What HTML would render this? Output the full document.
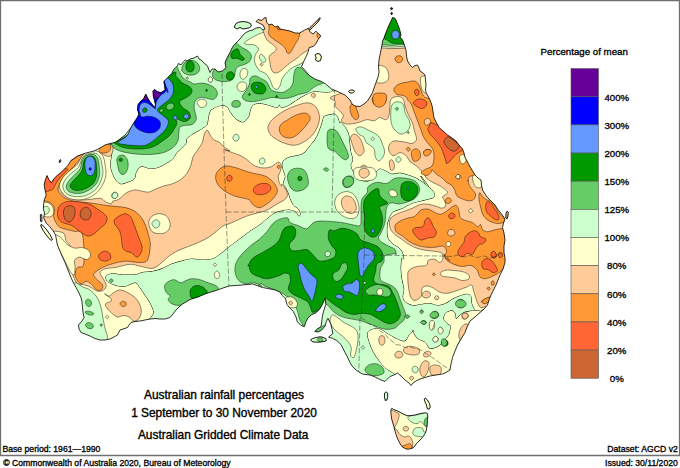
<!DOCTYPE html>
<html lang="en"><head><meta charset="utf-8"><title>Australian rainfall percentages</title>
<style>
html,body{margin:0;padding:0;background:#fff;}
body{width:680px;height:468px;overflow:hidden;position:relative;font-family:"Liberation Sans",Arial,Helvetica,sans-serif;color:#000;}
svg{position:absolute;left:0;top:0;display:block;}
text{font-family:"Liberation Sans",Arial,Helvetica,sans-serif;fill:#000;}
.t{font-size:11.9px;text-anchor:middle;stroke:#000;stroke-width:.35px;}
.l{font-size:9.7px;text-anchor:middle;stroke:#000;stroke-width:.32px;}
.f{font-size:8.65px;stroke:#000;stroke-width:.32px;}
.c{stroke:#000;stroke-width:.45;stroke-linejoin:round;}
</style></head><body>
<svg width="680" height="468" viewBox="0 0 680 468">
<rect x="0" y="0" width="680" height="468" fill="#fff"/>
<defs><clipPath id="land"><path d="M48.8 179.5L51.4 183L53.9 178.7L57.4 175.3L60.8 172.7L64.2 169.3L68 165.4L71 160.5L77.5 156L86 153L94 151L100 148L105 145L110 143.5L115 142.5L120 139L125 135L130 129L134 122.5L137 118L139 114L137.5 110L138 104.5L140.8 101L143.6 99L145.7 94L147.8 98.2L150 101.7L152.6 105L154.7 107.5L155.4 104.4L154.4 100.3L153.3 96L152.9 91.3L154.4 89.4L157.5 91.7L161 92.6L163 91.3L165.1 89.9L164.4 85L163.8 81.5L165.8 79.4L167.9 77.4L170 75.3L172 73.2L173.5 69.7L175.6 67.6L177.6 65.6L178.3 63.5L181.1 64.9L183.2 62.1L185.3 60L187 61L190 59L194 58L197.5 56L199 59L201 60L204 63L207.5 66L209 70L210 72.5L212 69L215 69L218 72L222.5 71L226 67.5L225 63L226 60L228 56L230 52.5L232 48L234 45L237 42L240 39L243 35L246 32.5L249 31L252.5 30L256 28L260 27.5L263 30L265 29L263 25L259 23L256 21.5L258 19.5L262 20.5L264 18L266 17.5L266.5 22L269 25L272 24L275 27L278 26L280 29L285 30L290 31L295 33L299.6 33.1L304.4 30.2L308.3 28.3L310.2 32.1L313.1 34L316 31.2L318.8 34L320.8 36L317.9 39.8L316 43.7L313.1 46.5L309.2 47.5L308.3 51.3L306.3 56.2L303.5 61.9L301.5 66.7L304.4 69.6L309.2 75.4L315 79.2L320.8 81.2L325.6 84L331.3 88.8L338 91.7L345 95L350 100L352 104L355 106L360 106.5L364 104L367.5 101L370 97L372.5 92.5L374 88L376 82.5L378 77L379 72.5L378.5 66L379 60L380 55L381 50L382 45L382.5 41L384 38L385 35L387 30L389 25L391 21L392.5 17.5L394.5 18L396 20L397.5 24L399 27.5L400 31L401 35L400 37L402.5 40L404 44L405 47L406 50L406.5 56L407.5 61L410 65L412.5 67.5L415 65.5L417.5 65L419 68L420 71L423 73L425 75L425.5 80L426 85L425.5 89L426 92.5L428 96L430 100L431.5 104L432.5 107.5L433 112L434 117.5L436 122L439 127.5L443 131L447.5 135L452 138L456 141L459 145L462.5 149L464 153L465 157.5L467 161L469 165L472 170L475 175L478 178L481 180L481.5 185L482.5 190L485 194L487.5 197.5L490 200L493 203L495 205L497.5 209L500 212L503 216L505 219L503.5 223L502.5 227.5L504 233L505 240L504 246L504 252.5L505 258L505 262.5L503 269L500 275L498 280L496 285L493.5 290L491 295L489 300L487.5 305L484 309L480 312.5L475 317L470 321L467 327L465 332.5L461 339L457.5 345L455 351L452.5 357.5L451 364L450 370L446 372.5L442.5 374L436 375L430 376L425 377.5L420 379L416 381L413 383L411 385.5L409 383L405 380L401 376L397.5 373L394 375L390 376.5L387 379.5L385 381.5L380 379.5L375 377L370 375L366 374.5L362.5 374L358 371.5L355 369L352 366L350 362.5L347.5 357L345 352.5L341.1 344.7L336.9 340.6L332.8 338.5L328.6 337.1L332.8 333.6L332.1 329.4L330.7 323.9L327.9 318.3L326.5 321.1L325.1 326L321.7 330.1L318.2 332L314.7 331.5L317.5 328.8L321 326.7L321.7 321.8L322.4 316.2L323.8 310.7L325.8 304.4L325.1 298.2L322.4 304.4L319.6 309.3L316.1 312.8L311.2 314.9L307.8 318.3L305.7 322.5L304.3 326.7L300.8 325.3L297.4 321.8L296 317L293.2 311.4L289.7 307.9L286.9 304.4L285.6 298.9L282.1 295.4L280 292L275 290L268 288.5L262.5 287.5L257 285.5L252.5 284L247 284.5L242.5 285L235 285.5L229 286L223 288L217.5 290L211 292L205 294L198 297L190 299.5L186 302L182.5 304L179 307L176 310L173 314L170 317.5L165 319L160 319L155 318.5L150 319L145 320L140 321L135 321.5L131 322.5L129 325L127.5 327.5L123 329L120 330L118.5 333L117.5 335L113 337.5L110 339L105 340L100 340L95 338.5L90 336L85 334L81 332.5L79 329L78.5 325L82 321L84 317.5L83 312L82.5 307.5L82 302L81 297.5L78.5 292L76 287.5L73 282L71 277.5L68 270L65 262.5L62 256L59.5 250L57.4 245L56.5 240.2L55.6 235.1L53.1 230.8L49.7 226.5L46.2 223.1L43.7 218L44.5 212.9L43.3 208.6L43.7 203.5L44.5 199.2L46.2 194.9L45 189.8L44.2 184.7L45.4 179.5L47.1 175.6ZM234 27L236 23.5L239 22L243 21.5L247 22L250.5 23.5L251.5 26L249 28L246 28.5L243 29L240 27.5L237 29ZM309 28.6L313 24.6L317 20.6L319.8 17.6L320.4 18.2L318 22L314 26L310 29.8ZM315 55L317 53.5L320 54L321.5 57L320.5 60.5L318 61.5L315.5 60L316 57.5ZM348.5 91.5L350.5 90L353.5 90L354.5 91.5L352.5 93L350 93ZM310.6 339.9L312.5 338.5L314.7 337.8L317.5 337.2L320.3 336.7L323 337.3L325.8 338.5L326.5 340.6L324 341.5L321.7 341.9L318 342.2L314.7 342.2L312 341.6ZM384.6 393L386 391.8L387.6 393L387.8 396.5L387 400L385.2 400.5L384.4 397ZM424.2 399L425.5 398.3L427.5 400L429.5 403.5L430.3 407L429 409.3L427 408.5L426.5 405L425 402ZM390.9 412.5L391 409.5L391.9 408.2L393.5 409.5L396 410.3L399 411.7L403 413.8L407 415.7L411 415.6L415 415L418.5 414L421.7 413.3L425 412.8L427.4 413.3L427.8 417L427.4 420.6L427.2 425L426.6 428.7L426 431.5L425 433.6L423.5 436L421.7 438.5L420 440L418.5 441.7L416.5 443.5L415 445.8L413.5 447.5L412 448.3L409.5 449L407 449.2L404.5 448.2L402 446.6L400.3 444L399 441.7L397.3 438L395.7 433.6L394.8 430L394 427L392.8 423L391.7 419L391.2 416ZM506 213L507.3 211L508.3 212.5L508 216L507 219L505.8 218ZM59.3 160.8L60.3 159.5L61 160.3L60.2 162.4L59.4 162.6ZM40.3 214.8L41.6 214.5L42 218L41.8 221.5L40.5 221.3ZM40.5 225L42 224.5L46 229L50 234.5L52.5 239.5L51 240.5L47 236L43 230.5ZM390.5 8.2L392 7.6L392.6 9L391.3 9.8ZM390.8 13L392 12.5L392.5 14L391.2 14.6Z"/></clipPath></defs>
<g clip-path="url(#land)">
<rect x="30" y="5" width="490" height="450" fill="#FFFFCC"/>
<path fill="none" stroke="#000" stroke-width="1" stroke-linejoin="round" d="M113 133C106.9 155.9 113.7 140 113.7 142.6C113.6 145.3 113 146.4 112.6 148.8C112.3 151.2 112 154.3 111.6 157.1C111.3 159.8 110.4 162.6 110.6 165.3C110.8 168 111.8 171.1 112.6 173.5C113.5 175.9 114.4 178 115.7 179.7C117.1 181.4 118.8 183.5 120.9 183.8C122.9 184.2 125.9 182.6 128.1 181.8C130.3 180.9 132.9 180.4 134.3 178.7C135.6 177 135.1 173.5 136.3 171.5C137.5 169.4 139.2 166.8 141.5 166.3C143.7 165.8 147 168.2 149.7 168.4C152.5 168.6 155.2 168.2 157.9 167.4C160.7 166.5 163.8 164.6 166.2 163.2C168.6 161.9 170.6 160.8 172.4 159.1C174.1 157.4 175.1 154.7 176.5 152.9C177.8 151.2 179 150.4 180.6 148.8C182.1 147.3 184.7 145.4 185.7 143.7C186.8 142 185.7 140.1 186.8 138.5C187.8 137 189.9 135.8 191.9 134.4C194 133 196.9 131.7 199.1 130.3C201.4 128.9 203.9 127.2 205.3 126.2C206.6 125.1 206.6 125.7 207.2 124C207.8 122.2 208 118.1 208.6 115.7C209.3 113.3 209.3 111.3 211.3 109.6C213.3 107.8 218 106 220.6 105.4C223.2 104.9 225 105.3 226.8 106.5C228.5 107.7 229.3 110.6 230.9 112.6C232.4 114.7 234 117.3 236 118.8C238.1 120.4 241.2 122.3 243.2 121.9C245.3 121.6 247.2 118.8 248.4 116.8C249.6 114.7 249.6 111.6 250.4 109.6C251.3 107.5 251.6 105.4 253.5 104.4C255.4 103.4 259 103.2 261.8 103.4C264.5 103.6 267.4 104.8 270 105.4C272.6 106.1 275.7 107.7 277.2 107.5C278.8 107.3 278.6 104.4 279.3 104.4C280 104.4 280.1 107.2 281.3 107.5C282.5 107.8 284.9 106.6 286.5 106.1C288 105.5 288 105.6 290.6 104C293.2 102.4 298 98.7 301.9 96.6C305.8 94.5 310.5 92 313.9 91.2C317.2 90.4 319.1 91.7 321.8 91.8C324.4 91.9 327.9 92.2 329.7 91.8C331.5 91.5 331.4 91.3 332.4 89.9C333.3 88.4 333.6 97.4 335.7 83.2C337.8 69.1 375.9 18 345 5C314.1 -8 188.7 -16.3 150 5C111.3 26.3 119.1 110.1 113 133Z"/>
<path fill="none" stroke="#000" stroke-width="1" stroke-linejoin="round" d="M323.5 116.9C324 116.5 325.4 116 326.4 115.7C327.4 115.3 328.3 115 329.7 114.7C331.1 114.5 333.7 113.9 335 114.3C336.3 114.8 336.9 116.2 337.6 117.6C338.4 119.1 339 122.1 339.6 122.9C340.2 123.8 340.4 121.9 341.3 122.8C342.3 123.6 344.2 126 345.4 127.9C346.6 129.8 347.8 131.5 348.5 134.1C349.2 136.7 349.2 140.4 349.6 143.4C349.9 146.3 350.1 148.8 350.6 151.6C351.1 154.3 352.6 157.6 352.6 159.8C352.6 162.1 350.6 163.1 350.6 165C350.6 166.9 351.6 169.3 352.6 171.1C353.7 173 355.4 174.8 356.8 176.3C358.1 177.8 359 179.6 360.9 180.4C362.8 181.3 365.9 182 368.1 181.4C370.3 180.9 372.9 178.9 374.3 177.3C375.6 175.8 375.3 173.6 376.3 172.2C377.4 170.8 378.6 169.1 380.4 169.1C382.3 169.1 385.8 171.3 387.6 172.2C389.5 173 389.7 174.1 391.8 174.2C393.8 174.4 397.3 173 400 173.2C402.7 173.4 405.5 174.4 408.2 175.3C411 176.1 414.1 177.2 416.5 178.4C418.9 179.6 420.7 181.1 422.6 182.5C424.6 183.8 428.7 187.6 428.4 186.6C428.1 185.5 421.3 176.5 420.9 176.2C420.5 175.8 424 181.8 426 184.4C428.1 187 431.9 189.6 433.2 191.6C434.6 193.7 435 195.6 434.3 196.8C433.6 198 431.3 198.1 429.1 198.8C426.9 199.5 423.6 200.2 420.9 200.9C418.1 201.6 415 202.1 412.6 202.9C410.2 203.8 408.5 205 406.5 206C404.4 207.1 402.4 208.3 400.3 209.1C398.2 210 395.7 210.3 394.1 211.2C392.5 212 391.9 212.6 390.9 214.3C389.8 216 388.5 218.9 387.8 221.5C387.1 224 386.8 227 386.8 229.7C386.8 232.5 386.8 235.5 387.8 237.9C388.8 240.3 391.1 242.4 392.9 244.1C394.8 245.8 397.6 246.9 399.1 248.2C400.7 249.6 401.5 250.6 402.2 252.4C403 254.1 403.7 257.6 403.7 258.5C403.6 259.5 402.1 256.6 401.6 258.2C401.1 259.9 400.6 265.1 400.6 268.5C400.6 272 401.1 275.4 401.6 278.8C402.1 282.3 403.5 286 403.7 289.1C403.8 292.2 402.3 295.1 402.6 297.4C403 299.6 404 301.1 405.7 302.5C407.5 303.9 410.4 305.2 412.9 305.6C415.5 305.9 418.4 304.9 421.2 304.6C423.9 304.2 426.7 303.4 429.4 303.5C432.2 303.7 434.9 305.6 437.6 305.6C440.4 305.6 443.5 304.6 445.9 303.5C448.3 302.5 449.8 300.6 452.1 299.4C454.3 298.2 456.9 297.2 459.3 296.3C461.7 295.5 464.6 294.3 466.5 294.3C468.4 294.3 469.7 294.8 470.6 296.3C471.4 297.9 470.9 301.3 471.6 303.5C472.3 305.8 473.2 308.2 474.7 309.7C476.3 311.3 478.1 312.5 480.9 312.8C483.6 313.1 493 306.4 491.2 311.8C489.4 317.1 475.2 332.8 470 345C464.8 357.2 471.7 376.7 460 385C448.3 393.3 418.3 395 400 395C381.7 395 361.7 393.3 350 385C338.3 376.7 338.3 353.3 330 345C321.7 336.7 310 342.5 300 335C290 327.5 281.7 307.2 270 300C258.3 292.8 243.3 291 230 292C216.7 293 200 300.5 190 306C180 311.5 176.7 322 170 325C163.3 328 153.3 325 150 324C146.7 323 149.4 320.7 150 318.8C150.6 316.8 153.8 315.2 153.8 312.5C153.8 309.8 151.5 305.4 150 302.5C148.5 299.6 146.7 297.5 145 295C143.3 292.5 141.7 289.6 140 287.5C138.3 285.4 137.5 282.7 135 282.5C132.5 282.3 128.3 285.8 125 286.2C121.7 286.7 117.9 285.8 115 285C112.1 284.2 109 282.7 107.5 281.2C106 279.8 105.4 277.5 106.2 276.2C107.1 275 109.8 274 112.5 273.8C115.2 273.5 118.6 274.9 122.5 275C126.4 275.1 132.9 275 136.2 274.6C139.5 274.1 139.6 273 142.4 272.5C145.1 272 149.2 272.2 152.6 271.5C156.1 270.8 159.9 269.6 162.9 268.4C166 267.2 168.1 265.5 171.2 264.3C174.3 263.1 178 262 181.5 261.2C184.9 260.3 188.3 259.3 191.8 259.1C195.2 258.9 198.6 260.1 202.1 260.1C205.5 260.1 209.3 260.1 212.4 259.1C215.4 258.1 218.2 255.7 220.6 254C223 252.3 224.4 250.7 226.8 248.8C229.2 246.9 232.3 244.7 235 242.6C237.7 240.6 240.5 238.5 243.2 236.5C246 234.4 248.7 232.2 251.5 230.3C254.2 228.4 256.1 227.8 259.7 225.1C263.3 222.5 269.4 216.6 272.9 214.3C276.5 211.9 278.4 211.9 281.2 211.2C283.9 210.5 287 210 289.4 210.1C291.8 210.3 294 211.2 295.6 212.2C297.1 213.2 297.8 216 298.7 216.3C299.5 216.7 300.7 215.5 300.7 214.3C300.7 213.1 299.9 210.7 298.7 209.1C297.5 207.6 294.9 206.7 293.5 205C292.2 203.3 291.3 200.9 290.4 198.8C289.6 196.8 289.2 194.7 288.4 192.6C287.5 190.6 286.1 188 285.3 186.5C284.5 185 283.4 185.3 283.4 183.7C283.4 182 285.4 178.7 285.4 176.5C285.4 174.2 283.9 172.4 283.4 170.3C282.9 168.2 282.2 165.8 282.4 164.1C282.5 162.4 283 161.2 284.4 160C285.8 158.8 288.5 157.6 290.6 156.9C292.6 156.2 294.7 156.4 296.8 155.9C298.8 155.4 301.2 154.9 302.9 153.8C304.7 152.8 305.7 151.3 307.1 149.7C308.4 148.2 309.8 146.3 311.2 144.6C312.6 142.8 314.1 141.3 315.3 139.4C316.5 137.5 317.4 135.6 318.4 133.2C319.4 130.8 320.6 127.6 321.5 125C322.3 122.4 323.2 119.2 323.5 117.8C323.9 116.4 323 117.2 323.5 116.9Z"/>
<path fill="#CCFFCC" d="M113 133C106.9 155.9 113.7 140 113.7 142.6C113.6 145.3 113 146.4 112.6 148.8C112.3 151.2 112 154.3 111.6 157.1C111.3 159.8 110.4 162.6 110.6 165.3C110.8 168 111.8 171.1 112.6 173.5C113.5 175.9 114.4 178 115.7 179.7C117.1 181.4 118.8 183.5 120.9 183.8C122.9 184.2 125.9 182.6 128.1 181.8C130.3 180.9 132.9 180.4 134.3 178.7C135.6 177 135.1 173.5 136.3 171.5C137.5 169.4 139.2 166.8 141.5 166.3C143.7 165.8 147 168.2 149.7 168.4C152.5 168.6 155.2 168.2 157.9 167.4C160.7 166.5 163.8 164.6 166.2 163.2C168.6 161.9 170.6 160.8 172.4 159.1C174.1 157.4 175.1 154.7 176.5 152.9C177.8 151.2 179 150.4 180.6 148.8C182.1 147.3 184.7 145.4 185.7 143.7C186.8 142 185.7 140.1 186.8 138.5C187.8 137 189.9 135.8 191.9 134.4C194 133 196.9 131.7 199.1 130.3C201.4 128.9 203.9 127.2 205.3 126.2C206.6 125.1 206.6 125.7 207.2 124C207.8 122.2 208 118.1 208.6 115.7C209.3 113.3 209.3 111.3 211.3 109.6C213.3 107.8 218 106 220.6 105.4C223.2 104.9 225 105.3 226.8 106.5C228.5 107.7 229.3 110.6 230.9 112.6C232.4 114.7 234 117.3 236 118.8C238.1 120.4 241.2 122.3 243.2 121.9C245.3 121.6 247.2 118.8 248.4 116.8C249.6 114.7 249.6 111.6 250.4 109.6C251.3 107.5 251.6 105.4 253.5 104.4C255.4 103.4 259 103.2 261.8 103.4C264.5 103.6 267.4 104.8 270 105.4C272.6 106.1 275.7 107.7 277.2 107.5C278.8 107.3 278.6 104.4 279.3 104.4C280 104.4 280.1 107.2 281.3 107.5C282.5 107.8 284.9 106.6 286.5 106.1C288 105.5 288 105.6 290.6 104C293.2 102.4 298 98.7 301.9 96.6C305.8 94.5 310.5 92 313.9 91.2C317.2 90.4 319.1 91.7 321.8 91.8C324.4 91.9 327.9 92.2 329.7 91.8C331.5 91.5 331.4 91.3 332.4 89.9C333.3 88.4 333.6 97.4 335.7 83.2C337.8 69.1 375.9 18 345 5C314.1 -8 188.7 -16.3 150 5C111.3 26.3 119.1 110.1 113 133Z"/>
<path fill="#CCFFCC" d="M323.5 116.9C324 116.5 325.4 116 326.4 115.7C327.4 115.3 328.3 115 329.7 114.7C331.1 114.5 333.7 113.9 335 114.3C336.3 114.8 336.9 116.2 337.6 117.6C338.4 119.1 339 122.1 339.6 122.9C340.2 123.8 340.4 121.9 341.3 122.8C342.3 123.6 344.2 126 345.4 127.9C346.6 129.8 347.8 131.5 348.5 134.1C349.2 136.7 349.2 140.4 349.6 143.4C349.9 146.3 350.1 148.8 350.6 151.6C351.1 154.3 352.6 157.6 352.6 159.8C352.6 162.1 350.6 163.1 350.6 165C350.6 166.9 351.6 169.3 352.6 171.1C353.7 173 355.4 174.8 356.8 176.3C358.1 177.8 359 179.6 360.9 180.4C362.8 181.3 365.9 182 368.1 181.4C370.3 180.9 372.9 178.9 374.3 177.3C375.6 175.8 375.3 173.6 376.3 172.2C377.4 170.8 378.6 169.1 380.4 169.1C382.3 169.1 385.8 171.3 387.6 172.2C389.5 173 389.7 174.1 391.8 174.2C393.8 174.4 397.3 173 400 173.2C402.7 173.4 405.5 174.4 408.2 175.3C411 176.1 414.1 177.2 416.5 178.4C418.9 179.6 420.7 181.1 422.6 182.5C424.6 183.8 428.7 187.6 428.4 186.6C428.1 185.5 421.3 176.5 420.9 176.2C420.5 175.8 424 181.8 426 184.4C428.1 187 431.9 189.6 433.2 191.6C434.6 193.7 435 195.6 434.3 196.8C433.6 198 431.3 198.1 429.1 198.8C426.9 199.5 423.6 200.2 420.9 200.9C418.1 201.6 415 202.1 412.6 202.9C410.2 203.8 408.5 205 406.5 206C404.4 207.1 402.4 208.3 400.3 209.1C398.2 210 395.7 210.3 394.1 211.2C392.5 212 391.9 212.6 390.9 214.3C389.8 216 388.5 218.9 387.8 221.5C387.1 224 386.8 227 386.8 229.7C386.8 232.5 386.8 235.5 387.8 237.9C388.8 240.3 391.1 242.4 392.9 244.1C394.8 245.8 397.6 246.9 399.1 248.2C400.7 249.6 401.5 250.6 402.2 252.4C403 254.1 403.7 257.6 403.7 258.5C403.6 259.5 402.1 256.6 401.6 258.2C401.1 259.9 400.6 265.1 400.6 268.5C400.6 272 401.1 275.4 401.6 278.8C402.1 282.3 403.5 286 403.7 289.1C403.8 292.2 402.3 295.1 402.6 297.4C403 299.6 404 301.1 405.7 302.5C407.5 303.9 410.4 305.2 412.9 305.6C415.5 305.9 418.4 304.9 421.2 304.6C423.9 304.2 426.7 303.4 429.4 303.5C432.2 303.7 434.9 305.6 437.6 305.6C440.4 305.6 443.5 304.6 445.9 303.5C448.3 302.5 449.8 300.6 452.1 299.4C454.3 298.2 456.9 297.2 459.3 296.3C461.7 295.5 464.6 294.3 466.5 294.3C468.4 294.3 469.7 294.8 470.6 296.3C471.4 297.9 470.9 301.3 471.6 303.5C472.3 305.8 473.2 308.2 474.7 309.7C476.3 311.3 478.1 312.5 480.9 312.8C483.6 313.1 493 306.4 491.2 311.8C489.4 317.1 475.2 332.8 470 345C464.8 357.2 471.7 376.7 460 385C448.3 393.3 418.3 395 400 395C381.7 395 361.7 393.3 350 385C338.3 376.7 338.3 353.3 330 345C321.7 336.7 310 342.5 300 335C290 327.5 281.7 307.2 270 300C258.3 292.8 243.3 291 230 292C216.7 293 200 300.5 190 306C180 311.5 176.7 322 170 325C163.3 328 153.3 325 150 324C146.7 323 149.4 320.7 150 318.8C150.6 316.8 153.8 315.2 153.8 312.5C153.8 309.8 151.5 305.4 150 302.5C148.5 299.6 146.7 297.5 145 295C143.3 292.5 141.7 289.6 140 287.5C138.3 285.4 137.5 282.7 135 282.5C132.5 282.3 128.3 285.8 125 286.2C121.7 286.7 117.9 285.8 115 285C112.1 284.2 109 282.7 107.5 281.2C106 279.8 105.4 277.5 106.2 276.2C107.1 275 109.8 274 112.5 273.8C115.2 273.5 118.6 274.9 122.5 275C126.4 275.1 132.9 275 136.2 274.6C139.5 274.1 139.6 273 142.4 272.5C145.1 272 149.2 272.2 152.6 271.5C156.1 270.8 159.9 269.6 162.9 268.4C166 267.2 168.1 265.5 171.2 264.3C174.3 263.1 178 262 181.5 261.2C184.9 260.3 188.3 259.3 191.8 259.1C195.2 258.9 198.6 260.1 202.1 260.1C205.5 260.1 209.3 260.1 212.4 259.1C215.4 258.1 218.2 255.7 220.6 254C223 252.3 224.4 250.7 226.8 248.8C229.2 246.9 232.3 244.7 235 242.6C237.7 240.6 240.5 238.5 243.2 236.5C246 234.4 248.7 232.2 251.5 230.3C254.2 228.4 256.1 227.8 259.7 225.1C263.3 222.5 269.4 216.6 272.9 214.3C276.5 211.9 278.4 211.9 281.2 211.2C283.9 210.5 287 210 289.4 210.1C291.8 210.3 294 211.2 295.6 212.2C297.1 213.2 297.8 216 298.7 216.3C299.5 216.7 300.7 215.5 300.7 214.3C300.7 213.1 299.9 210.7 298.7 209.1C297.5 207.6 294.9 206.7 293.5 205C292.2 203.3 291.3 200.9 290.4 198.8C289.6 196.8 289.2 194.7 288.4 192.6C287.5 190.6 286.1 188 285.3 186.5C284.5 185 283.4 185.3 283.4 183.7C283.4 182 285.4 178.7 285.4 176.5C285.4 174.2 283.9 172.4 283.4 170.3C282.9 168.2 282.2 165.8 282.4 164.1C282.5 162.4 283 161.2 284.4 160C285.8 158.8 288.5 157.6 290.6 156.9C292.6 156.2 294.7 156.4 296.8 155.9C298.8 155.4 301.2 154.9 302.9 153.8C304.7 152.8 305.7 151.3 307.1 149.7C308.4 148.2 309.8 146.3 311.2 144.6C312.6 142.8 314.1 141.3 315.3 139.4C316.5 137.5 317.4 135.6 318.4 133.2C319.4 130.8 320.6 127.6 321.5 125C322.3 122.4 323.2 119.2 323.5 117.8C323.9 116.4 323 117.2 323.5 116.9Z"/>
<path class="c" fill="#FFCC99" d="M376.3 47.7C380.4 43.8 386.4 48.3 391.8 48.3C397.1 48.3 397.9 47.8 408.2 47.7C418.5 47.6 431.6 35.6 453.5 47.7C475.5 59.7 527.3 77.9 540 120C552.7 162.1 537.5 268.9 530 300C522.5 331.1 502.6 305.5 495.3 306.6C488 307.7 488.4 306.4 486 306.6C483.6 306.8 482.3 308.2 480.9 307.6C479.5 307.1 478.7 305.2 477.8 303.5C476.9 301.8 476.4 299.4 475.7 297.4C475.1 295.3 474.4 293.2 473.7 291.2C473 289.1 472.8 285.7 471.6 285C470.4 284.3 468.7 286.2 466.5 287.1C464.2 287.9 461.3 289.1 458.2 290.1C455.1 291.2 451 292.9 447.9 293.2C444.9 293.6 442.1 293.1 439.7 292.2C437.3 291.3 435.6 289.1 433.5 288.1C431.5 287.1 429.2 286 427.4 286C425.5 286 423.2 286.4 422.2 288.1C421.2 289.8 422.4 294.3 421.2 296.3C420 298.4 416.7 300.3 415 300.4C413.3 300.6 411.9 299.2 410.9 297.4C409.9 295.5 409.3 292.2 408.8 289.1C408.3 286 407.8 281.9 407.8 278.8C407.8 275.7 407.3 272.6 408.8 270.6C410.4 268.5 414.1 267.3 417.1 266.5C420 265.6 424.4 266.5 426.3 265.4C428.2 264.4 427 261.3 428.4 260.3C429.8 259.3 432.7 258.9 434.6 259.3C436.4 259.6 438.3 262.4 439.7 262.4C441.1 262.4 442.5 260.8 442.8 259.3C443.1 257.7 443.2 254.4 441.8 253.1C440.3 251.8 436.9 251.8 434.3 251.3C431.6 250.9 428.9 250.8 426 250.3C423.1 249.8 419.7 249.3 416.8 248.2C413.8 247.2 411.1 245.7 408.5 244.1C406 242.6 403.7 240.7 401.3 239C398.9 237.3 396 235.7 394.1 233.8C392.2 231.9 390.7 230.1 390 227.6C389.3 225.2 389 221.6 390 219.4C391 217.2 393.8 215.6 396.2 214.3C398.6 212.9 401.7 212.2 404.4 211.2C407.2 210.1 410.2 209.1 412.6 208.1C415 207.1 416.6 205.7 418.8 205C421.1 204.3 423.3 203.8 426 204C428.8 204.1 432.7 205.3 435.3 206C437.9 206.7 439.8 208.1 441.5 208.1C443.2 208.1 445.1 207.2 445.6 206C446.1 204.8 445.1 202.4 444.6 200.9C444 199.3 442.3 197.8 442.5 196.8C442.7 195.7 444.8 195.5 445.6 194.7C446.4 193.9 448.1 193.3 447.4 191.9C446.6 190.6 443.6 188.2 441.2 186.6C438.8 185 435.3 183.8 432.9 182.5C430.5 181.1 428.5 180.1 426.8 178.4C425.1 176.6 424.4 174.2 422.6 172.2C420.9 170.1 418.5 167.7 416.5 166C414.4 164.3 412 163.6 410.3 161.9C408.6 160.2 407.9 157.3 406.2 155.7C404.5 154.2 402.1 152.6 400 152.6C397.9 152.6 395.5 155.7 393.8 155.7C392.1 155.7 390.6 154.2 389.7 152.6C388.8 151.1 388.2 148.3 388.7 146.4C389.2 144.6 390.9 142.2 392.8 141.3C394.7 140.4 397.8 141.1 400 141.3C402.2 141.5 404.1 142 406.2 142.3C408.2 142.7 410.6 143.9 412.4 143.4C414.1 142.8 416.1 141.3 416.5 139.2C416.8 137.2 415.1 133.7 414.4 131C413.7 128.3 413.4 125.5 412.4 122.8C411.3 120 409.4 117.3 408.2 114.5C407 111.8 406 108.9 405.1 106.3C404.3 103.7 404.1 100.7 403.1 99.1C402.1 97.5 400.7 96.9 399 96.6C397.3 96.4 394.2 96.9 392.8 97.6C391.4 98.4 390.8 99.4 390.3 101.1C389.8 102.9 390 105.8 389.7 108.4C389.4 110.9 389.4 114.7 388.7 116.6C388 118.5 387.1 119.5 385.6 119.7C384 119.8 381.3 117.4 379.4 117.6C377.5 117.8 376.3 120.4 374.3 120.7C372.2 121 369.3 119.5 367.1 119.7C364.8 119.8 363.3 121 360.9 121.7C358.5 122.4 355.2 123.5 352.6 123.8C350.1 124.1 347.3 124.3 345.4 123.8C343.6 123.3 341.7 122.1 341.3 120.7C341 119.3 343.7 117.3 343.4 115.6C343 113.8 340.6 112 339.3 110.4C337.9 108.9 335.8 107.8 335.1 106.3C334.5 104.8 335.8 102.7 335.1 101.1C334.5 99.6 327.8 99.3 331 97C334.3 94.8 348.7 92.1 354.7 87.8C360.7 83.5 363.5 78 367.1 71.3C370.7 64.6 372.2 51.5 376.3 47.7Z"/>
<path class="c" fill="#FFCC99" d="M112.6 201.3C113.9 200.5 116.6 200.6 118.8 199.3C121.1 197.9 123.5 194.6 126 193.1C128.6 191.5 131.7 190.3 134.3 190C136.8 189.7 139.1 190.7 141.5 191C143.9 191.4 146.3 192.4 148.7 192.1C151.1 191.7 153.3 190 155.9 189C158.5 187.9 161.4 186.7 164.1 185.9C166.9 185 169.6 184.9 172.4 183.8C175.1 182.8 178.2 181.4 180.6 179.7C183 178 185.1 175.9 186.8 173.5C188.5 171.1 189.9 168 190.9 165.3C191.9 162.6 191.9 159.5 192.9 157.1C194 154.7 195.5 153.3 197.1 150.9C198.6 148.5 201 145.4 202.2 142.6C203.4 139.9 203.4 136.5 204.3 134.4C205.1 132.4 206.3 130.1 207.4 130.3C208.4 130.5 209.4 133.9 210.4 135.4C211.5 137 212 138.4 213.5 139.6C215.1 140.8 218 141.4 219.7 142.6C221.4 143.8 222.1 145.4 223.8 146.8C225.5 148.1 229.9 150.4 230 150.9C230.2 151.4 224.2 149.4 224.7 149.7C225.2 150 230.2 151.8 232.9 152.8C235.7 153.8 238.8 154.7 241.2 155.9C243.6 157.1 245.3 158.5 247.4 160C249.4 161.5 251.1 163.8 253.5 165.1C255.9 166.5 259 167.5 261.8 167.8C264.5 168.2 267.8 167.8 270 167.2C272.2 166.6 273.8 165 275.1 164.1C276.5 163.3 277.2 161.9 278.2 162.1C279.3 162.2 281 163.6 281.3 165.1C281.7 166.7 280.8 169.4 280.3 171.3C279.8 173.2 278.4 174.6 278.2 176.5C278.1 178.4 278.8 181.1 279.3 182.6C279.8 184.2 280.8 185.7 281.3 185.9C281.8 186.2 281.4 183.6 282.2 184.4C283 185.2 285.5 188.7 286.3 190.6C287.2 192.5 287.7 194.2 287.4 195.7C287 197.3 286 198.5 284.3 199.9C282.6 201.2 280 202.3 277.1 204C274.1 205.7 270.2 208.6 266.8 210.1C263.3 211.7 259.9 212.2 256.5 213.2C253 214.3 250.4 214.7 246.2 216.3C241.9 218 234.8 221.4 230.9 223.1C227 224.7 225.1 224.8 222.6 226.2C220.2 227.5 218.9 229.4 216.5 231.3C214.1 233.2 211.3 235.6 208.2 237.5C205.1 239.4 201.4 241.1 197.9 242.6C194.5 244.2 191.1 245.4 187.6 246.8C184.2 248.1 180.4 249.3 177.4 250.9C174.3 252.4 171.9 254 169.1 256C166.4 258.1 163.6 261.2 160.9 263.2C158.1 265.3 156.1 267.9 152.6 268.4C149.2 268.9 144.1 267 140.3 266.3C136.5 265.6 134.2 264.1 130 264.3C125.8 264.5 119.2 266.8 115 267.5C110.8 268.2 107.5 267.9 105 268.8C102.5 269.6 100.4 271 100 272.5C99.6 274 101.5 275.4 102.5 277.5C103.5 279.6 106 282.9 106.2 285C106.5 287.1 105.2 289 103.8 290C102.3 291 99.6 291.7 97.5 291.2C95.4 290.8 93.3 288.5 91.2 287.5C89.2 286.5 87.3 285.6 85 285C82.7 284.4 79.4 285 77.5 283.8C75.6 282.5 74.8 279.8 73.8 277.5C72.7 275.2 72.3 272.5 71.2 270C70.2 267.5 68.8 265 67.5 262.5C66.2 260 66.8 260 63.8 255C60.7 250 52.8 236.6 49.4 232.4C46 228.1 45 230.6 43.2 229.3C41.5 227.9 41.2 227 39.1 224.1C37.1 221.2 32.3 217.3 30.9 211.8C29.5 206.3 28.8 197 30.9 191.2C32.9 185.3 38.1 180.7 43.2 176.8C48.4 172.8 55.2 171.3 61.8 167.5C68.3 163.7 79.4 155 82.4 154.1C85.3 153.3 81.2 159.6 79.3 162.4C77.4 165.1 73.6 168 71 170.6C68.5 173.2 65.5 175.2 63.8 177.8C62.1 180.4 60.9 183.3 60.7 186C60.6 188.8 60.9 192.1 62.8 194.3C64.7 196.4 68.8 198 72.1 199C75.3 200 78.9 200 82.4 200C85.8 200 89.6 199.3 92.6 199C95.7 198.7 98.8 198 100.9 198.4C102.9 198.8 103.3 200.5 105 201.5C106.7 202.4 109.9 204 111.2 203.9C112.5 203.9 111.4 202.1 112.6 201.3Z"/>
<path class="c" fill="#FF9933" d="M82.8 155.8C81.9 157.3 78.1 161.1 76.2 163.4C74.2 165.7 72.9 167.5 71 169.6C69.1 171.6 66.6 173.7 64.9 175.7C63.1 177.8 61.9 179.9 60.7 181.9C59.6 184 58.2 186.2 58.1 188.1C57.9 190 58.4 191.5 59.7 193.2C61 195 63.1 197 65.9 198.4C68.6 199.8 72.7 200.8 76.2 201.5C79.6 202.2 83 202.1 86.5 202.5C89.9 202.9 93.3 203.4 96.8 203.9C100.2 204.5 103.6 205.1 107.1 205.6C110.5 206 114.3 206.3 117.4 206.6C120.4 207 122.8 207 125.6 207.6C128.3 208.3 131.4 209.4 133.8 210.7C136.2 212.1 138.3 214 140 215.9C141.7 217.8 142.9 219.7 144.1 222.1C145.3 224.5 146.4 227.6 147.2 230.3C148.1 233 148.8 235.9 149.3 238.5C149.8 241.1 150.6 242.4 150.3 245.9C150 249.5 149.2 257.2 147.5 260C145.8 262.8 143.8 262.3 140 262.5C136.2 262.7 129.6 261 125 261.2C120.4 261.5 116.2 262.7 112.5 263.8C108.8 264.8 105.6 265.8 102.5 267.5C99.4 269.2 94.8 271.9 93.8 273.8C92.7 275.6 94.8 276.9 96.2 278.8C97.7 280.6 101.7 283.1 102.5 285C103.3 286.9 102.3 289.2 101.2 290C100.2 290.8 97.9 290.5 96.2 289.5C94.6 288.5 92.9 285.1 91.2 283.8C89.6 282.4 87.9 281.2 86.2 281.2C84.6 281.2 82.8 284 81.2 283.8C79.7 283.5 78 281.7 77 280C76 278.3 74.9 275.8 75 273.8C75.1 271.7 76 269.2 77.5 267.5C79 265.8 82.9 269.3 83.8 263.8C84.6 258.2 84 239.8 82.4 234.4C80.7 229 76.9 232.2 74.1 231.3C71.4 230.5 68.3 230 65.9 229.3C63.5 228.6 61.4 228.4 59.7 227.2C58 226 56.6 223.9 55.6 222.1C54.6 220.2 53.7 217.9 53.5 215.9C53.4 213.8 54.7 211.6 54.6 209.7C54.4 207.8 53.7 205.9 52.5 204.6C51.3 203.2 49.6 202.3 47.4 201.5C45.1 200.6 41.9 201.1 39.1 199.4C36.4 197.7 30.5 195.3 30.9 191.2C31.2 187.1 36 178.8 41.2 174.7C46.3 170.6 55.1 169.9 61.8 166.5C68.5 163 77.8 155.9 81.3 154.1C84.8 152.3 83.6 154.2 82.8 155.8Z"/>
<path class="c" fill="#66CC66" d="M111.5 140.8C114.1 138.4 124.4 139.5 128.8 133.1C133.3 126.7 131.1 113.2 138.5 102.3C145.8 91.4 166.8 73.8 173.1 67.7C179.3 61.5 175.2 65.2 176 65.4C176.8 65.5 177.1 67.1 177.9 68.7C178.7 70.2 179.6 72.7 180.8 74.4C181.9 76.2 183 77.9 184.6 79.2C186.2 80.5 188.8 81.3 190.4 82.1C192 82.9 192.3 83.9 194.2 84C196.2 84.2 199.4 82.9 201.9 83.1C204.5 83.2 207.4 84 209.6 85C211.9 86 214.1 87.2 215.4 88.8C216.7 90.4 217.6 92.9 217.3 94.6C217 96.4 215.1 98.8 213.5 99.4C211.9 100.1 209.9 98.8 207.7 98.5C205.4 98.1 202.1 97 200 97.5C197.9 98 196.2 99.6 195.2 101.3C194.2 103.1 194.1 105.8 194.2 108.1C194.3 110.3 195.4 112.9 195.8 114.8C196.1 116.7 196.7 118 196.2 119.6C195.6 121.2 194.2 123.5 192.3 124.4C190.4 125.4 186.7 124.9 184.6 125.4C182.5 125.9 180.8 126 179.8 127.3C178.8 128.6 179.2 130.8 178.8 133.1C178.5 135.3 178.7 138.5 177.9 140.8C177.1 143 176.1 144.7 174 146.5C172 148.4 168.8 150.6 165.4 151.9C162 153.2 158.3 153.8 153.8 154.2C149.4 154.6 143.6 154.6 138.5 154.2C133.3 153.8 127.2 153 123.1 151.9C118.9 150.8 115.4 149.4 113.5 147.5C111.5 145.6 109 143.2 111.5 140.8Z"/>
<path class="c" fill="#009900" d="M115.4 141.7C117.4 139.8 125 139.6 128.8 133.1C132.7 126.5 131.2 112.2 138.5 102.3C145.7 92.4 165.9 77.8 172.1 73.5C178.4 69.1 174.8 75.4 176 76.3C177.1 77.3 177.7 78.1 178.8 79.2C180 80.4 181.1 82 182.7 83.1C184.3 84.2 186.9 84.8 188.5 86C190 87.1 191.6 88.4 191.9 89.8C192.2 91.2 191.6 93.2 190.4 94.6C189.2 96.1 186.4 97.3 184.6 98.5C182.9 99.6 180.4 100.2 179.8 101.3C179.2 102.5 180 103.9 180.8 105.2C181.6 106.5 183.3 107.9 184.6 109C186 110.2 187.9 110.5 188.8 111.9C189.8 113.4 190.9 116.1 190.4 117.7C189.8 119.3 187.2 121.1 185.6 121.5C184 122 182.4 121.1 180.8 120.6C179.2 120.1 176.6 118.2 176 118.7C175.3 119.1 177.2 121.7 176.9 123.5C176.6 125.2 175.3 127.1 174 129.2C172.8 131.3 171.3 133.9 169.2 136C167.1 138 164.1 140 161.5 141.7C159 143.5 156.7 145.4 153.8 146.5C151 147.7 147.8 148.5 144.2 148.8C140.7 149.2 136.2 149.1 132.7 148.8C129.2 148.6 125.7 148.2 123.1 147.5C120.4 146.8 118.2 145.6 116.9 144.6C115.6 143.7 113.4 143.7 115.4 141.7Z"/>
<path class="c" fill="#66CC66" d="M166.3 106.5C166.6 105.6 167.4 104.4 168.3 103.8C169.1 103.3 170.6 102.9 171.5 103.1C172.5 103.3 173.8 104.3 174 105.2C174.3 106.1 173.8 107.7 173.1 108.5C172.3 109.3 170.6 109.9 169.6 110C168.6 110.1 167.5 109.8 166.9 109.2C166.4 108.7 166.1 107.4 166.3 106.5Z"/>
<path class="c" fill="#66CC66" d="M159.6 110.4C159.8 109.8 160.9 108.9 161.5 108.8C162.2 108.8 163.3 109.5 163.5 110C163.7 110.5 163.2 111.6 162.7 111.9C162.2 112.3 160.9 112.4 160.4 112.1C159.9 111.9 159.4 110.9 159.6 110.4Z"/>
<path class="c" fill="#6699FF" d="M118.3 142.3C118.9 140.4 125.8 139.4 128.8 133.1C131.9 126.7 130.4 113.5 136.5 104.2C142.6 94.9 160.2 81.7 165.4 77.3C170.6 72.9 166.9 77.4 167.7 77.9C168.5 78.4 169.4 79.2 170.2 80.2C171 81.2 172.1 82.6 172.7 84C173.2 85.5 173.5 87.1 173.5 88.8C173.5 90.6 173.4 92.9 172.7 94.6C172 96.4 170.6 98 169.2 99.4C167.9 100.9 166 102 164.4 103.3C162.8 104.6 160.8 106 159.6 107.1C158.4 108.2 157.3 109 157.3 110C157.3 111 158.4 111.8 159.6 112.9C160.8 114 163 115.4 164.4 116.7C165.9 118 167.8 119 168.3 120.6C168.8 122.2 168.1 124.4 167.3 126.3C166.5 128.3 165.1 130.4 163.5 132.1C161.9 133.9 159.6 135.3 157.7 136.9C155.8 138.5 154.2 140.3 151.9 141.7C149.7 143.2 147.1 144.9 144.2 145.6C141.3 146.2 137.8 145.7 134.6 145.6C131.4 145.4 127.7 145.2 125 144.6C122.3 144.1 117.6 144.2 118.3 142.3Z"/>
<path class="c" fill="#6699FF" d="M173.1 117.7C173 117 174 116 174.6 115.8C175.2 115.6 176.3 116 176.7 116.5C177.1 117.1 177.2 118.3 176.9 118.8C176.6 119.4 175.6 120 175 119.8C174.4 119.6 173.1 118.4 173.1 117.7Z"/>
<path class="c" fill="#6699FF" d="M183.7 116.2C183.9 115.4 184.8 114.1 185.6 113.8C186.3 113.6 187.5 114 188.1 114.6C188.6 115.2 189.1 116.6 188.8 117.3C188.6 118 187.3 118.7 186.5 118.8C185.8 119 184.7 118.7 184.2 118.3C183.8 117.8 183.4 116.9 183.7 116.2Z"/>
<path class="c" fill="#0000FF" d="M136.7 105.8C137.2 104.4 137.9 102.6 138.8 101.7C139.6 100.7 140.6 100.7 141.5 100C142.5 99.3 143.3 98 144.3 97.5C145.3 97 146.6 96.1 147.8 96.8C148.9 97.5 150.2 100.2 151.2 101.7C152.3 103.2 153.3 104.6 154 105.8C154.8 107 156.1 108.7 155.8 108.9C155.6 109.1 153.6 107.6 152.6 106.9C151.6 106.2 150.9 105.4 149.9 104.7C148.8 104 147.5 103.1 146.4 102.8C145.2 102.5 143.9 102.5 142.9 102.8C141.9 103 141.1 103.4 140.6 104.2C140 104.9 139.7 106 139.4 107.2C139.2 108.4 139.1 110.1 139.2 111.4C139.3 112.7 139.6 113.9 140.1 114.9C140.6 115.8 140.9 116.7 142.2 116.9C143.5 117.2 145.9 116.2 147.8 116.2C149.6 116.2 151.7 116.5 153.3 116.9C155 117.4 156.3 118.1 157.5 119C158.7 120 159.9 121 160.3 122.5C160.6 124 160.5 126.4 159.6 128.1C158.7 129.7 156.7 131.4 154.7 132.2C152.8 133 150.1 133.1 147.8 132.9C145.5 132.7 142.9 131.9 140.8 130.8C138.8 129.8 136.4 128.3 135.3 126.7C134.1 125 133.9 123 133.9 121.1C133.9 119.3 135 117.4 135.3 115.6C135.6 113.7 135.3 111.6 135.6 110C135.8 108.4 136.1 107.2 136.7 105.8Z"/>
<path class="c" fill="#0000FF" d="M155.4 106.5C155.8 106.5 155.8 103.2 156.4 101.7C157 100.2 158.1 98.7 158.9 97.5C159.7 96.3 160.5 95.5 161.4 94.7C162.3 94 163.3 93.7 164.2 93.1C165 92.4 165.9 90.9 166.5 90.8C167.2 90.8 167.8 92.9 167.9 92.6C168.1 92.4 167.8 90.5 167.5 89.4C167.2 88.4 166.5 87.5 166.1 86.4C165.7 85.3 165.5 84.1 165 82.9C164.5 81.8 163.9 78.9 163.3 79.4C162.8 80 162.3 84.9 161.7 86.4C161 87.9 160.5 88.2 159.6 88.5C158.7 88.7 157.7 87.8 156.4 87.8C155.1 87.8 152.6 87.1 151.9 88.5C151.2 89.9 151.9 93.9 152.2 96.1C152.6 98.3 153.5 99.9 154 101.7C154.6 103.4 155 106.5 155.4 106.5Z"/>
<path class="c" fill="#009900" d="M142.6 110C142.8 109.4 143.1 108.7 143.6 108.3C144.1 108 145.1 107.7 145.7 107.9C146.3 108.1 147 109 147.1 109.6C147.2 110.2 146.9 111.2 146.4 111.7C145.9 112.1 144.9 112.4 144.3 112.4C143.7 112.4 143.2 112.1 142.9 111.7C142.6 111.3 142.5 110.6 142.6 110Z"/>
<path class="c" fill="#660099" d="M142.9 99.6C143.1 98.4 144.8 93.6 145.7 93.3C146.6 93.1 147.5 97 148.1 98.2C148.6 99.4 149 100.3 148.8 100.6C148.5 100.8 147.1 99.8 146.4 99.7C145.6 99.7 144.9 100.3 144.3 100.3C143.7 100.3 142.7 100.7 142.9 99.6Z"/>
<path class="c" fill="#660099" d="M152.2 91.2C152.5 90.4 153.8 88.8 154.7 88.9C155.6 89 156.4 91.2 157.5 91.9C158.6 92.6 160.9 92.5 161.2 93.1C161.6 93.6 160.2 94.6 159.6 95.4C159 96.3 158.2 97.6 157.5 98.2C156.8 98.8 156 99.5 155.4 99.2C154.8 98.9 154.4 97.2 154 96.4C153.6 95.5 153.4 94.9 153.1 94C152.8 93.2 151.9 92.1 152.2 91.2Z"/>
<path class="c" fill="#660099" d="M137.8 113.5C138 113.1 138.8 112.1 139.2 112.1C139.6 112.1 140.2 113 140.3 113.5C140.3 113.9 139.8 114.7 139.4 114.9C139.1 115 138.3 114.8 138.1 114.6C137.8 114.4 137.6 113.9 137.8 113.5Z"/>
<path class="c" fill="#009900" d="M185.6 65.8C185.7 64.4 186.5 62.3 187.5 61.5C188.5 60.7 190.4 60.4 191.3 61C192.3 61.5 193 63.4 193.3 64.8C193.5 66.2 193.3 68.5 192.7 69.6C192.1 70.7 190.4 71.5 189.4 71.5C188.4 71.6 187.2 71 186.5 70C185.9 69 185.4 67.2 185.6 65.8Z"/>
<path class="c" fill="#009900" d="M205.8 89.8C205.9 89.4 206.6 89.1 206.9 89.2C207.2 89.4 207.6 90.4 207.5 90.8C207.4 91.2 206.4 91.7 206.2 91.5C205.9 91.4 205.6 90.2 205.8 89.8Z"/>
<path class="c" fill="#FFFFCC" d="M197.1 102.3C197.1 101 198.7 99.8 200 99.4C201.3 99 203.7 99.4 204.8 100C205.9 100.6 206.7 102.1 206.7 103.3C206.7 104.4 205.9 106.1 204.8 106.7C203.7 107.4 201.3 107.9 200 107.1C198.7 106.4 197.1 103.6 197.1 102.3Z"/>
<path class="c" fill="#FFFFCC" d="M208.7 79.2C208.6 78.4 209.4 77.5 210 77.3C210.6 77.1 211.7 77.7 212.1 78.3C212.5 78.8 212.8 80.1 212.5 80.8C212.2 81.4 211.2 82.4 210.6 82.1C209.9 81.9 208.7 80 208.7 79.2Z"/>
<path class="c" fill="#FFCC99" d="M186 77.7C186 77.3 186.9 76.9 187.3 76.9C187.7 77 188.5 77.7 188.5 78.1C188.5 78.5 187.7 79.3 187.3 79.2C186.9 79.2 186 78.1 186 77.7Z"/>
<path class="c" fill="#FFFFCC" d="M244.3 42.9C244.8 41.8 248.9 39.3 251.5 37.8C254 36.3 257 34.9 259.7 33.7C262.5 32.5 263.5 32.5 267.9 30.6C272.4 28.7 276.5 23.7 286.5 22.4C296.4 21 320.8 18.2 327.7 22.4C334.5 26.5 330.2 42.3 327.7 47.1C325.1 51.9 315.1 49.6 312.2 51.2C309.3 52.7 311.4 54.6 310.2 56.3C308.9 58 306.9 60.1 305 61.5C303.1 62.8 300.9 63.5 298.8 64.6C296.8 65.6 294.5 66.4 292.6 67.6C290.8 68.8 289.2 70.1 287.5 71.8C285.8 73.5 283.6 75.7 282.4 77.9C281.2 80.2 281.2 83.3 280.3 85.1C279.4 87 278.4 88.9 277.2 89.3C276 89.6 274.3 88.8 273.1 87.2C271.9 85.7 271.2 82.2 270 80C268.8 77.8 267.8 75.5 265.9 73.8C264 72.1 260.6 71.8 258.7 69.7C256.8 67.6 255.1 64 254.6 61.5C254 58.9 254.9 56.3 255.6 54.3C256.3 52.2 258.8 50.7 258.7 49.1C258.5 47.6 256.3 45.8 254.6 45C252.8 44.2 250.1 44.9 248.4 44.6C246.7 44.2 243.8 44.1 244.3 42.9Z"/>
<path class="c" fill="#CCFFCC" d="M259.3 56.3C259.4 55.3 260.5 54.2 261.4 54.3C262.2 54.4 263.5 55.9 264.2 56.9C265 58 266 59.5 265.9 60.4C265.8 61.4 264.7 62.5 263.8 62.5C263 62.5 261.5 61.5 260.7 60.4C260 59.4 259.2 57.4 259.3 56.3Z"/>
<path class="c" fill="#FFFFCC" d="M240.1 72.8C240.4 71.4 241.3 69.8 242.2 69.1C243.1 68.4 244.8 68.2 245.7 68.7C246.6 69.1 247.7 70.4 247.8 71.8C247.9 73.1 247.1 75.7 246.3 76.9C245.6 78.1 244.2 79.1 243.2 79.2C242.3 79.3 241.1 78.6 240.6 77.5C240 76.5 239.9 74.2 240.1 72.8Z"/>
<path class="c" fill="#FFFFCC" d="M237.1 86.2C237.3 84.9 238.4 83.4 239.5 82.7C240.6 82 242.5 81.8 243.6 82.1C244.8 82.4 246.2 83.3 246.5 84.5C246.9 85.7 246.4 88.1 245.7 89.3C245 90.4 243.4 91.4 242.2 91.5C241 91.7 239.2 91.2 238.3 90.3C237.4 89.4 236.9 87.4 237.1 86.2Z"/>
<path class="c" fill="#FFFFCC" d="M208.2 79C208.4 78.3 209.3 77.2 209.9 76.9C210.5 76.7 211.5 76.9 211.9 77.5C212.4 78.1 212.8 79.7 212.6 80.4C212.4 81.2 211.4 81.9 210.7 82.1C210.1 82.2 209.1 81.8 208.6 81.2C208.2 80.7 208 79.7 208.2 79Z"/>
<path class="c" fill="#FFCC99" d="M263.8 33.1C263 31 263.3 28.9 261.8 27.5C260.2 26.1 255.9 26 254.6 24.4C253.2 22.9 251.3 20 253.5 18.2C255.8 16.5 262.5 14.1 267.9 14.1C273.4 14.1 276.5 16.9 286.5 18.2C296.4 19.6 321.5 19.3 327.7 22.4C333.8 25.4 325.2 33.3 323.5 36.8C321.8 40.2 319.4 41.1 317.4 42.9C315.3 44.8 313.6 46.4 311.2 48.1C308.8 49.8 305.3 51.5 302.9 53.2C300.5 55 298.8 56.8 296.8 58.4C294.7 59.9 292.6 61 290.6 62.5C288.5 64 286.3 66.1 284.4 67.6C282.5 69.2 281 70.9 279.3 71.8C277.6 72.6 275.5 73.3 274.1 72.8C272.7 72.3 271.7 70.4 271 68.7C270.3 67 270.3 64.4 270 62.5C269.7 60.6 268.8 58.7 269 57.4C269.1 56 270 55.3 271 54.3C272.1 53.2 274.3 52.2 275.1 51.2C276 50.1 276.7 49.3 276.2 48.1C275.7 46.9 273.6 45.3 272.1 44C270.5 42.6 268.3 41.7 266.9 39.9C265.5 38 264.7 35.1 263.8 33.1Z"/>
<path class="c" fill="#FFCC99" d="M260.1 64.6C260.1 64.1 260.9 63.2 261.4 63.1C261.8 63.1 262.7 63.9 262.8 64.4C262.9 64.8 262.2 66 261.8 66C261.3 66 260.2 65 260.1 64.6Z"/>
<path class="c" fill="#FF9933" d="M269 29.6C269.3 27.5 268.1 23.6 271 22.4C273.9 21.2 281.2 21.7 286.5 22.4C291.8 23 300.7 24.8 302.9 26.5C305.2 28.2 300.5 30.8 299.9 32.6C299.2 34.5 299.7 35.7 298.8 37.8C298 39.9 296.1 42.6 294.7 45C293.3 47.4 291.8 50.8 290.6 52.2C289.4 53.6 288.5 54.1 287.5 53.2C286.5 52.4 285.8 48.8 284.4 47.1C283 45.3 281.2 44.3 279.3 42.9C277.4 41.6 274.8 40.2 273.1 38.8C271.4 37.5 269.7 36.3 269 34.7C268.3 33.2 268.6 31.6 269 29.6Z"/>
<path class="c" fill="#FF9933" d="M316.9 34.7C317.1 33.6 318.3 31.6 319.4 31.6C320.5 31.6 323.2 33.4 323.5 34.7C323.9 36 322.3 38.6 321.5 39.2C320.6 39.9 319.1 39.2 318.4 38.4C317.6 37.7 316.8 35.8 316.9 34.7Z"/>
<path class="c" fill="#FF6633" d="M277.2 28.1C277.4 27.7 278.5 27.1 279.3 27.1C280 27.1 281.4 27.7 281.5 28.1C281.7 28.6 280.9 29.5 280.3 29.8C279.7 30 278.3 29.8 277.8 29.6C277.3 29.3 277 28.5 277.2 28.1Z"/>
<path class="c" fill="#66CC66" d="M236 42.9C237.7 43.3 239.1 45.7 241.2 47.1C243.2 48.4 246.7 49.6 248.4 51.2C250.1 52.7 251.3 54.6 251.5 56.3C251.6 58 250.6 60.1 249.4 61.5C248.2 62.8 246.2 63.7 244.3 64.6C242.4 65.4 239.6 65.6 238.1 66.6C236.6 67.6 236 69.2 235.4 70.7C234.8 72.3 235.3 74.3 234.6 75.9C233.8 77.5 232.5 79.5 230.9 80.4C229.2 81.4 226.6 81.5 224.7 81.6C222.8 81.8 221.3 81.5 219.6 81C217.8 80.6 215.6 80.2 214.4 79C213.2 77.8 212.2 75.5 212.4 73.8C212.5 72.1 213.7 69.5 215.4 68.7C217.2 67.8 220.9 68.7 222.6 68.7C224.4 68.7 225.4 69.5 225.7 68.7C226.1 67.8 224.4 65.2 224.7 63.5C225 61.8 227.1 60.4 227.8 58.4C228.5 56.3 228.3 53.4 228.8 51.2C229.3 48.9 229.7 46.4 230.9 45C232.1 43.6 234.3 42.6 236 42.9Z"/>
<path class="c" fill="#66CC66" d="M250.4 77.9C251.5 76.6 253.7 75.7 255.6 75.9C257.5 76.1 259.9 77.9 261.8 79C263.7 80 265.5 80.5 266.9 82.1C268.3 83.6 268.8 86.7 270 88.2C271.2 89.8 272.1 90.6 274.1 91.3C276.2 92 280 92.7 282.4 92.4C284.8 92 286.8 90.6 288.5 89.3C290.2 87.9 291.8 86.4 292.6 84.1C293.5 81.9 293.2 78.5 293.7 75.9C294.2 73.3 294.5 70.1 295.7 68.7C296.9 67.3 299 66.8 300.9 67.6C302.8 68.5 304.7 72.1 307.1 73.8C309.5 75.5 312.6 76.5 315.3 77.9C318 79.4 323.4 81.2 323.5 82.5C323.7 83.8 318.4 84.6 316.3 85.8C314.3 86.9 312.7 88.2 311.2 89.3C309.6 90.4 309.1 91.5 307.1 92.4C305 93.2 301.6 93.6 298.8 94.4C296.1 95.3 293.3 96.8 290.6 97.5C287.8 98.2 285.4 98.5 282.4 98.5C279.3 98.5 275.1 97.3 272.1 97.5C269 97.7 266.9 98.9 263.8 99.6C260.7 100.2 256.6 101.4 253.5 101.6C250.4 101.8 247.2 101.4 245.3 100.6C243.4 99.7 242 98.2 242.2 96.5C242.4 94.8 245.1 92.4 246.3 90.3C247.5 88.2 248.7 86.2 249.4 84.1C250.1 82.1 249.4 79.3 250.4 77.9Z"/>
<path class="c" fill="#66CC66" d="M231.9 103.1C232.1 102.1 232.9 101.2 234 100.8C235 100.4 237 100.2 238.1 100.6C239.2 101 240.2 102 240.4 103.1C240.5 104.1 240.4 106.1 239.1 106.8C237.9 107.4 234.1 107.4 232.9 106.8C231.7 106.1 231.7 104.1 231.9 103.1Z"/>
<path class="c" fill="#009900" d="M230.9 54.3C231.2 52.9 232.8 51 234 50.1C235.2 49.3 237.1 48.4 238.1 49.1C239.1 49.8 239.1 52.7 240.1 54.3C241.2 55.8 243.9 57.4 244.3 58.4C244.6 59.4 243.4 60.4 242.2 60.4C241 60.4 238.8 58.7 237.1 58.4C235.3 58 232.9 59.1 231.9 58.4C230.9 57.7 230.5 55.6 230.9 54.3Z"/>
<path class="c" fill="#009900" d="M226.4 75.9C226.5 74.8 227 73.3 227.8 72.6C228.6 71.9 230.3 71.5 231.3 71.8C232.3 72 233.6 73.1 234 74.2C234.3 75.3 234 77.4 233.4 78.4C232.7 79.4 230.9 80.1 229.9 80.2C228.8 80.3 227.8 79.7 227.2 79C226.6 78.3 226.3 76.9 226.4 75.9Z"/>
<path class="c" fill="#009900" d="M251.1 87.2C250.9 85.7 251.8 83.9 253.1 83.1C254.4 82.2 256.9 81.8 258.7 82.1C260.5 82.3 262.6 83.3 263.8 84.5C265 85.7 266 87.8 265.9 89.3C265.8 90.7 264.6 92.6 263.4 93.4C262.2 94.2 260.3 94.2 258.7 94C257.1 93.8 255.2 93.5 253.9 92.4C252.7 91.2 251.2 88.8 251.1 87.2Z"/>
<path class="c" fill="#009900" d="M248.4 94.4C248.4 94 249 93.4 249.4 93.4C249.8 93.4 250.6 94 250.6 94.4C250.6 94.8 249.8 95.6 249.4 95.6C249 95.6 248.4 94.8 248.4 94.4Z"/>
<path class="c" fill="#009900" d="M275.6 96.5C275.6 96.1 276.2 95.4 276.6 95.4C277 95.4 277.8 96.1 277.8 96.5C277.8 96.8 277 97.5 276.6 97.5C276.2 97.5 275.6 96.8 275.6 96.5Z"/>
<path class="c" fill="#6699FF" d="M255 87C254.9 86.5 255.9 85.6 256.4 85.6C256.9 85.5 258 86.3 258.1 86.8C258.1 87.3 257.3 88.4 256.8 88.4C256.3 88.5 255 87.5 255 87Z"/>
<path class="c" fill="#FFFFCC" d="M379.4 47.7L391.8 48.7L408.2 47.7L408.2 30.6L379.4 30.6Z"/>
<path class="c" fill="#CCFFCC" d="M379.4 46.2L391.8 47.1L408.2 46L408.2 30.6L379.4 30.6Z"/>
<path class="c" fill="#66CC66" d="M379.4 44.6L391.8 45.4L408.2 44.2L408.2 30.6L379.4 30.6Z"/>
<path class="c" fill="#009900" d="M379.4 39.9C380.3 44.7 382.5 38.3 384.6 38.8C386.6 39.3 389.2 42.2 391.8 42.9C394.3 43.7 397.3 43.7 400 43.4C402.7 43 406.9 46.4 408.2 40.9C409.6 35.3 413 15.1 408.2 10C403.4 4.9 384.2 5 379.4 10C374.6 15 378.6 35 379.4 39.9Z"/>
<path class="c" fill="#6699FF" d="M391.8 34.7C391.8 33.6 392.2 31.9 393 31.2C393.8 30.5 395.3 30.3 396.3 30.6C397.3 30.9 398.6 31.9 399 33.1C399.4 34.2 399.1 36.4 398.6 37.4C398 38.4 396.4 39 395.5 39C394.5 39.1 393.4 38.5 392.8 37.8C392.2 37.1 391.7 35.8 391.8 34.7Z"/>
<path class="c" fill="#FFFFCC" d="M376.3 66.6C377.7 64.2 382.6 65.8 384.6 66.6C386.5 67.5 387.4 69.9 388.1 71.8C388.7 73.7 389.1 76.2 388.7 77.9C388.3 79.7 387 81.2 385.6 82.1C384.2 82.9 382 83.3 380.4 83.1C378.9 82.9 377 83.8 376.3 81C375.6 78.3 375 69 376.3 66.6Z"/>
<path class="c" fill="#FFFFCC" d="M420.6 77.9C421 76.2 422.3 75.9 423.7 75.9C425.1 75.9 428 75.2 428.8 77.9C429.7 80.7 429.7 90 428.8 92.4C428 94.7 425 93 423.7 91.9C422.4 90.9 421.5 88.5 421 86.2C420.5 83.8 420.1 79.7 420.6 77.9Z"/>
<path class="c" fill="#FF9933" d="M394.9 59C394.9 58 395.9 56.6 396.9 56.1C397.9 55.6 400.1 55.6 401 56.1C402 56.7 402.8 58.4 402.7 59.4C402.6 60.4 401.4 61.8 400.4 62.3C399.5 62.8 397.8 62.8 396.9 62.3C396 61.7 394.9 60 394.9 59Z"/>
<path class="c" fill="#FF9933" d="M372.2 98.5C372.6 96.9 374.6 95.6 376.3 94.8C378 94.1 380.9 93.6 382.5 94C384.1 94.4 385.6 96.1 386 97.5C386.4 98.9 386.1 101.4 385.2 102.6C384.3 103.9 382.3 104.8 380.4 105.1C378.6 105.5 375.6 105.8 374.3 104.7C372.9 103.6 371.9 100.2 372.2 98.5Z"/>
<path class="c" fill="#CCFFCC" d="M391.8 105.3C392.8 103 395 101.9 396.9 101.8C398.8 101.6 401.7 102.5 403.1 104.2C404.5 106 404.1 109.7 405.1 112.5C406.2 115.2 408.5 118.3 409.3 120.7C410.1 123.1 410.4 125 409.9 126.9C409.4 128.8 407.7 130.8 406.2 132C404.7 133.2 402.7 134.3 401 134.1C399.3 133.9 397.4 132.5 395.9 131C394.3 129.5 392.6 127.4 391.8 124.8C390.9 122.3 390.7 118.8 390.7 115.6C390.7 112.3 390.7 107.6 391.8 105.3Z"/>
<path class="c" fill="#66CC66" d="M395.5 108.8C395.5 108.3 396.4 107.3 396.9 107.3C397.4 107.3 398.4 108.3 398.4 108.8C398.4 109.3 397.4 110.4 396.9 110.4C396.4 110.4 395.5 109.3 395.5 108.8Z"/>
<path class="c" fill="#66CC66" d="M407.2 132.4C407.2 132.1 407.9 131.4 408.2 131.4C408.6 131.4 409.3 132.1 409.3 132.4C409.3 132.8 408.6 133.5 408.2 133.5C407.9 133.5 407.2 132.8 407.2 132.4Z"/>
<path class="c" fill="#FF9933" d="M393.8 89.3C394.2 87.6 396.7 85.3 399 84.1C401.2 82.9 404.6 82.6 407.2 82.1C409.8 81.5 412.5 80.7 414.4 81C416.3 81.4 417.5 82.7 418.5 84.1C419.6 85.5 419.9 87.6 420.6 89.3C421.3 91 421.8 93 422.6 94.4C423.5 95.8 423.3 96.5 425.7 97.5C428.1 98.5 433.9 100.2 437.1 100.6C440.3 101 439.5 93.4 445 100C450.5 106.6 463.3 129.2 470 140C476.7 150.8 483.7 159.3 485 165C486.3 170.7 480.3 172.1 477.7 174C475.1 176 471.2 175.4 469.6 176.5C468 177.7 468.3 180.1 468.1 180.8C467.8 181.4 468 179.5 468.2 180.3C468.4 181.1 468.6 183.9 469.3 185.4C470 187 471.3 188.2 472.4 189.6C473.4 190.9 475.1 192.1 475.4 193.7C475.8 195.2 475.4 197.6 474.4 198.8C473.4 200 471.3 200.9 469.3 200.9C467.2 200.9 464.1 199.7 462.1 198.8C460 198 458.1 197.1 456.9 195.7C455.7 194.4 455.7 192.3 454.9 190.6C454 188.9 453.1 186.8 451.8 185.4C450.4 184.1 448.2 183.6 446.6 182.4C445.1 181.2 444.2 179.6 442.5 178.2C440.8 176.9 438 175.5 436.3 174.1C434.6 172.7 433.1 170.3 432.2 170C431.3 169.7 431.8 171.7 430.9 172.6C430 173.5 428.4 175.4 426.8 175.5C425.1 175.5 421.3 174 421 173C420.7 172 422.9 170.9 424.7 169.7C426.5 168.5 430.4 168 431.9 166C433.5 164 433.8 160.5 434 157.8C434.1 155 433.8 151.8 432.9 149.5C432.1 147.3 430.4 146.4 428.8 144.4C427.3 142.3 425.1 139.8 423.7 137.2C422.3 134.6 421.6 131.7 420.6 128.9C419.6 126.2 418.5 123.5 417.5 120.7C416.5 118 415.4 115.2 414.4 112.5C413.4 109.7 412.4 106.3 411.3 104.2C410.2 102.2 408.6 101.2 407.8 100.1C407 99 407.4 98.3 406.6 97.5C405.8 96.7 404.7 96 403.1 95.4C401.5 94.9 398.5 95.4 396.9 94.4C395.4 93.4 393.5 91 393.8 89.3Z"/>
<path class="c" fill="#FFCC99" d="M424.2 121.5C424.4 120.5 425.3 118.9 426.2 118.5C427 118 428.5 118.2 429.2 118.8C430 119.5 430.8 121.1 430.6 122.1C430.4 123.1 429 124.6 428.1 125C427.2 125.4 425.8 125.2 425.2 124.6C424.6 124 424.1 122.6 424.2 121.5Z"/>
<path class="c" fill="#FFFFCC" d="M459.4 157.7C459.4 156.2 460.5 155.2 461.3 154.8C462.2 154.4 463.8 154.6 464.6 155.4C465.4 156.2 466.2 158.3 466.2 159.6C466.2 160.9 465.4 162.4 464.6 163.1C463.8 163.7 462.2 164.4 461.3 163.5C460.5 162.6 459.4 159.1 459.4 157.7Z"/>
<path class="c" fill="#FFCC99" d="M455.6 176.9C455.5 176.2 456.7 174.9 457.5 174.6C458.3 174.4 459.8 174.8 460.4 175.4C460.9 175.9 461.2 177.2 460.8 177.9C460.4 178.5 458.9 179.4 458.1 179.2C457.2 179.1 455.7 177.7 455.6 176.9Z"/>
<path class="c" fill="#FF9933" d="M423.8 151.9C424 151 425.6 149.9 426.7 149.6C427.9 149.3 430.1 149.4 430.6 150C431.1 150.6 430.4 152.6 429.6 153.5C428.8 154.3 426.7 155.4 425.8 155.2C424.8 154.9 423.7 152.9 423.8 151.9Z"/>
<path class="c" fill="#FF6633" d="M414.4 91.9C414.3 90.9 415.4 89.5 416.1 89.3C416.7 89 418.1 89.5 418.5 90.3C419 91.1 419.3 93.1 418.9 94C418.6 94.9 417.2 96 416.5 95.6C415.7 95.3 414.5 93 414.4 91.9Z"/>
<path class="c" fill="#FF6633" d="M413.4 103.2C413.4 102.1 415.1 100.4 416.5 99.7C417.8 99 419.9 98.7 421.6 99.1C423.3 99.5 426.2 100.8 426.8 102.2C427.4 103.5 426.1 106.3 425.1 107.3C424.1 108.4 422 108.5 420.6 108.4C419.1 108.2 417.7 107.2 416.5 106.3C415.3 105.4 413.4 104.3 413.4 103.2Z"/>
<path class="c" fill="#FF6633" d="M427.6 128.9L430.9 122.4L438.1 125.4L446.3 131L454.6 137.2L464.9 145.4L462.8 149.9L455.6 154.7L449.4 161.9L446.5 163.5L444.3 155.7L441.2 147.5L435 139.2L429.9 134.1Z"/>
<path class="c" fill="#CC6633" d="M443.9 141.7C443.8 139.8 446.2 137 447.8 136.8C449.4 136.5 451.6 138.8 453.5 140.3C455.5 141.8 459.1 144 459.3 145.8C459.5 147.6 456.4 150.7 454.6 151.2C452.7 151.6 450.2 150.1 448.4 148.5C446.6 146.9 444 143.7 443.9 141.7Z"/>
<path class="c" fill="#FF9933" d="M350.6 105.3C351.3 104.2 353.7 103.5 354.7 104.2C355.7 104.9 356.1 107.3 356.8 109.4C357.5 111.4 359 114.9 358.8 116.6C358.7 118.3 356.8 119.7 355.7 119.7C354.6 119.7 353.2 118.1 352.2 116.6C351.3 115 350.5 112.3 350.2 110.4C349.9 108.5 349.8 106.3 350.6 105.3Z"/>
<path class="c" fill="#FF9933" d="M373.2 102.2C372.8 100 372.2 95.3 374.3 93.9C376.3 92.6 383.6 92.7 385.6 93.9C387.5 95.1 386.5 99.1 386 101.1C385.5 103.2 384 105.4 382.5 106.3C381 107.2 378.5 107.4 376.9 106.7C375.4 106 373.7 104.3 373.2 102.2Z"/>
<path class="c" fill="#CCFFCC" d="M355.7 128.9C356.1 127.7 358.8 126.7 360.9 126.9C362.9 127.1 365.9 128.9 368.1 130C370.3 131 372.4 131.9 374.3 133.1C376.2 134.3 378 135.3 379.4 137.2C380.8 139.1 381.6 142 382.5 144.4C383.4 146.8 384.6 149.4 384.6 151.6C384.6 153.8 383.5 156.2 382.5 157.8C381.5 159.3 379.6 161 378.4 160.9C377.2 160.7 376 158.6 375.3 156.7C374.6 154.8 375.1 151.4 374.3 149.5C373.4 147.6 371.5 146.6 370.1 145.4C368.8 144.2 367.1 143.7 366 142.3C365 141 365.2 138.6 364 137.2C362.8 135.8 360.2 135.5 358.8 134.1C357.5 132.7 355.4 130.1 355.7 128.9Z"/>
<path class="c" fill="#FFFFCC" d="M371.2 138.8C371.1 138.3 372.1 137.2 372.6 137.2C373.1 137.1 374.2 138.1 374.3 138.6C374.3 139.2 373.3 140.4 372.8 140.5C372.3 140.5 371.2 139.4 371.2 138.8Z"/>
<path class="c" fill="#CCFFCC" d="M395.9 159.4C396.1 158.6 397.5 156.8 398.4 156.7C399.2 156.6 400.8 157.9 401 158.8C401.2 159.7 400.3 161.4 399.6 161.9C398.9 162.4 397.5 162.3 396.9 161.9C396.3 161.5 395.6 160.3 395.9 159.4Z"/>
<path class="c" fill="#FFCC99" d="M350.6 137.2C350.9 135.3 353.2 133.9 354.7 134.1C356.3 134.3 358.5 136.3 359.9 138.2C361.2 140.1 362.3 143.2 362.9 145.4C363.6 147.6 364.5 149.9 364 151.6C363.5 153.3 361.2 155.5 359.9 155.7C358.5 155.9 356.9 154.3 355.7 152.6C354.5 150.9 353.5 148 352.6 145.4C351.8 142.8 350.2 139.1 350.6 137.2Z"/>
<path class="c" fill="#FFCC99" d="M359.9 168.1C360.5 166.3 362.6 164.8 364 165C365.3 165.1 367.3 167.4 368.1 169.1C368.9 170.8 369.4 173.8 368.7 175.3C368 176.7 365.4 177.9 364 177.9C362.5 177.9 360.5 176.9 359.9 175.3C359.2 173.6 359.2 169.8 359.9 168.1Z"/>
<path class="c" fill="#FFCC99" d="M389.3 161.9C389.5 160.2 390.9 159.5 391.8 159.8C392.6 160.2 393.9 162.4 394.2 163.9C394.6 165.5 394.4 168.1 393.8 169.1C393.2 170.1 391.5 171.3 390.7 170.1C390 168.9 389.1 163.6 389.3 161.9Z"/>
<path class="c" fill="#FF9933" d="M411.3 152.6C411.5 150.7 413.2 149.6 414.4 149.1C415.6 148.7 417.5 148.8 418.5 149.9C419.6 151 420.7 154 420.6 155.7C420.5 157.4 419.3 159.4 418.1 160.2C416.9 161.1 414.5 162.1 413.4 160.9C412.3 159.6 411.2 154.6 411.3 152.6Z"/>
<path class="c" fill="#FF9933" d="M423.7 151.6C424.2 150.6 426.5 149.6 427.8 149.5C429.1 149.5 431.1 150.2 431.3 151.2C431.5 152.1 429.9 154.5 428.8 155.3C427.7 156.1 425.6 156.3 424.7 155.7C423.9 155.1 423.2 152.6 423.7 151.6Z"/>
<path class="c" fill="#FF9933" d="M406.2 149.1C406.1 148.5 407.6 147.5 408.2 147.5C408.9 147.5 410.2 148.5 410.3 149.1C410.4 149.7 409.3 151.2 408.6 151.2C408 151.2 406.2 149.7 406.2 149.1Z"/>
<path class="c" fill="#66CC66" d="M327.9 131C329.1 128.1 333.3 129.3 335.1 130C337 130.7 338.1 133.2 339.3 135.1C340.5 137 341.2 138.9 342.4 141.3C343.6 143.7 345.4 147 346.5 149.5C347.5 152.1 348.7 155 348.5 156.7C348.4 158.5 346.8 159.8 345.4 159.8C344.1 159.8 342 158.1 340.3 156.7C338.6 155.4 337.2 153.1 335.1 151.6C333.1 150 329.1 150.9 327.9 147.5C326.7 144 326.7 133.9 327.9 131Z"/>
<path class="c" fill="#66CC66" d="M342.8 180.4C343.3 178.9 345 177.4 346.5 176.7C347.9 176 350.4 175.7 351.6 176.3C352.8 176.9 353.7 178.9 353.7 180.4C353.7 182 352.8 184.4 351.6 185.6C350.4 186.8 347.8 187.6 346.5 187.6C345.1 187.6 344 186.8 343.4 185.6C342.8 184.4 342.3 181.9 342.8 180.4Z"/>
<path class="c" fill="#FFFFCC" d="M472.4 178.2C472.2 176.3 473 175.5 474.4 175.1C475.8 174.8 479 175 480.6 176.2C482.1 177.4 483.7 180.5 483.7 182.4C483.7 184.2 482 186.8 480.6 187.5C479.2 188.2 476.8 188 475.4 186.5C474.1 184.9 472.5 180.1 472.4 178.2Z"/>
<path class="c" fill="#FFFFCC" d="M468.6 210.8C468.6 210.1 470 208.7 470.7 208.7C471.4 208.7 472.8 210.1 472.8 210.8C472.8 211.5 471.4 212.8 470.7 212.8C470 212.8 468.6 211.5 468.6 210.8Z"/>
<path class="c" fill="#FF9933" d="M395.1 225.6C395.7 223.9 397.4 222.7 399.3 221.5C401.2 220.3 403.9 219.2 406.5 218.4C409 217.5 412.3 217.7 414.7 216.3C417.1 215 418.7 211.3 420.9 210.1C423.1 208.9 425.9 208.8 428.1 209.1C430.3 209.5 432.2 211.3 434.3 212.2C436.3 213.1 438.4 214.4 440.4 214.3C442.5 214.1 444.7 212.4 446.6 211.2C448.5 210 450.2 208 451.8 207.1C453.4 206.1 455.1 204.7 456.3 205.4C457.5 206.1 458.4 209.2 459 211.2C459.6 213.2 459 215.8 460 217.4C461 218.9 463.1 219.6 465.1 220.4C467.2 221.3 470.3 221.5 472.4 222.5C474.4 223.5 476.1 226.3 477.5 226.6C478.9 227 479.7 224 480.6 224.6C481.4 225.1 481.4 228.5 482.6 229.7C483.9 230.9 485.7 231.8 487.8 231.8C489.9 231.8 492.6 230.2 495 229.7C497.4 229.2 498.4 228.8 502.2 228.7C506 228.5 515.4 223.1 517.7 228.7C519.9 234.3 518.1 255.9 515.9 262.4C513.7 268.8 507 266.1 504.6 267.5C502.2 268.9 502.7 269.6 501.5 270.6C500.3 271.6 499.1 272.6 497.4 273.7C495.6 274.7 493.2 275.9 491.2 276.8C489.1 277.6 486.9 278.8 485 278.8C483.1 278.8 481.2 278.3 479.9 276.8C478.5 275.2 478.3 271.4 476.8 269.6C475.2 267.7 473 266 470.6 265.4C468.2 264.9 465.1 266.6 462.4 266.5C459.6 266.3 456.7 265.4 454.1 264.4C451.5 263.4 448.6 262 446.9 260.3C445.2 258.6 443.4 254.1 443.8 254.1C444.3 254.2 449.6 260.2 449.7 260.6C449.8 261 445.1 258 444.6 256.5C444 254.9 446.8 253 446.6 251.3C446.4 249.6 445.4 246.9 443.5 246.2C441.6 245.5 438.2 247 435.3 247.2C432.4 247.4 429.1 247.6 426 247.2C422.9 246.9 419.7 246.2 416.8 245.1C413.8 244.1 410.9 242.6 408.5 241C406.1 239.5 404.4 237.4 402.4 235.9C400.3 234.3 397.4 233.5 396.2 231.8C395 230.1 394.6 227.3 395.1 225.6Z"/>
<path class="c" fill="#FF9933" d="M479.6 192.6C480.2 192.3 481.4 195.6 482.6 196.8C483.9 198 485.4 199.2 486.8 199.9C488.1 200.5 489.5 199.9 490.9 200.9C492.3 201.9 493.6 204 495 206C496.4 208.1 497.4 210.8 499.1 213.2C500.8 215.6 505.3 218.7 505.3 220.4C505.3 222.2 501.2 223.2 499.1 223.5C497.1 223.9 495 223.2 492.9 222.5C490.9 221.8 488.5 220.8 486.8 219.4C485.1 218 483.7 216.3 482.6 214.3C481.6 212.2 481.2 209.6 480.6 207.1C480 204.5 479.1 201.2 478.9 198.8C478.8 196.4 478.9 193 479.6 192.6Z"/>
<path class="c" fill="#FF6633" d="M486.8 201.9C487.6 201.2 489.7 201.9 490.9 202.9C492.1 204 492.8 206.2 494 208.1C495.2 210 497.3 212.4 498.1 214.3C498.9 216.2 499.2 218.6 498.7 219.4C498.2 220.3 496.3 219.9 495 219.4C493.7 218.9 492.3 217.5 490.9 216.3C489.5 215.1 487.6 213.8 486.8 212.2C485.9 210.7 485.7 208.8 485.7 207.1C485.7 205.3 485.9 202.6 486.8 201.9Z"/>
<path class="c" fill="#FF6633" d="M412.6 230.7C412.6 229.4 414 228.3 415.7 227.6C417.5 227 421.4 227.8 422.9 226.6C424.5 225.4 424.1 221.9 425 220.4C425.9 219 427.1 217.6 428.1 217.8C429.1 217.9 430.3 220 431.2 221.5C432 222.9 432.4 224.9 433.2 226.6C434.1 228.3 436.2 230.1 436.3 231.8C436.5 233.5 435.6 235.9 434.3 236.9C432.9 237.9 430.3 237.4 428.1 237.9C425.9 238.5 422.9 240.3 420.9 240C418.8 239.7 417.1 237.4 415.7 235.9C414.4 234.3 412.6 232.1 412.6 230.7Z"/>
<path class="c" fill="#FF6633" d="M448.7 215.7C448.8 214.9 449.9 213.6 450.7 213.2C451.6 212.9 453.1 213.1 453.8 213.6C454.5 214.2 455.2 215.5 455.1 216.3C454.9 217.1 453.7 218.3 452.8 218.6C451.9 218.9 450.4 218.7 449.7 218.2C449 217.7 448.5 216.5 448.7 215.7Z"/>
<path class="c" fill="#FFCC99" d="M447.6 232.8C447.8 231.8 448.7 230.2 449.7 229.7C450.7 229.3 452.6 229.5 453.4 230.1C454.3 230.7 455.1 232.5 454.9 233.4C454.6 234.4 453.2 235.5 452.2 235.9C451.2 236.2 449.6 236 448.9 235.5C448.1 235 447.5 233.8 447.6 232.8Z"/>
<path class="c" fill="#FFFFCC" d="M446 243.7C446.1 242.9 447.3 241.8 448.1 241.6C448.8 241.5 450.2 242.4 450.5 243.1C450.9 243.8 450.7 245.2 450.1 245.8C449.6 246.3 447.9 246.7 447.2 246.4C446.6 246 445.9 244.5 446 243.7Z"/>
<path class="c" fill="#FF6633" d="M465.1 236.9C466 235.4 467.7 233.8 469.3 232.8C470.8 231.8 472.9 230.7 474.4 230.7C476 230.7 477.5 231.8 478.5 232.8C479.6 233.8 479.4 235.9 480.6 236.9C481.8 237.9 485.2 237.9 485.7 239C486.3 240 484.9 242.1 483.7 243.1C482.5 244.1 479.9 244.1 478.5 245.1C477.2 246.2 476.5 247.7 475.4 249.3C474.4 250.8 473.7 253.7 472.4 254.4C471 255.1 468.8 253 467.2 253.4C465.7 253.7 464.5 256.1 463.1 256.5C461.7 256.8 459.8 256.3 459 255.4C458.1 254.6 457.6 252.9 457.9 251.3C458.3 249.8 460 247.7 461 246.2C462.1 244.6 463.4 243.6 464.1 242.1C464.8 240.5 464.3 238.5 465.1 236.9Z"/>
<path class="c" fill="#FF6633" d="M481.9 262.4C482.4 260.7 484.5 259 486 258.6C487.6 258.3 489.6 259.2 491.2 260.3C492.7 261.4 494.3 263.7 495.3 265.4C496.3 267.2 497.7 269.4 497.4 270.6C497 271.8 494.8 272.8 493.2 272.6C491.7 272.5 489.8 270.2 488.1 269.6C486.4 268.9 484 269.7 482.9 268.5C481.9 267.3 481.4 264 481.9 262.4Z"/>
<path class="c" fill="#FF6633" d="M491.2 255.1C491 254.1 492.1 252.4 492.8 252.1C493.5 251.7 494.7 252.3 495.3 253.1C495.9 253.8 496.6 255.7 496.3 256.6C496.1 257.4 494.5 258.5 493.7 258.2C492.8 258 491.3 256.2 491.2 255.1Z"/>
<path class="c" fill="#FF6633" d="M490.9 254.4C490.8 253.4 491.8 251.9 492.5 251.5C493.3 251.2 494.8 251.6 495.4 252.4C496 253.1 496.4 255.2 496 256.1C495.6 256.9 493.8 257.8 492.9 257.5C492.1 257.2 491 255.4 490.9 254.4Z"/>
<path class="c" fill="#FF6633" d="M498.1 254.8C498.1 254 498.9 252.6 499.5 252.4C500.2 252.1 501.6 252.7 502 253.4C502.4 254.1 502.6 255.8 502.2 256.5C501.8 257.2 500.2 257.8 499.5 257.5C498.8 257.2 498.1 255.7 498.1 254.8Z"/>
<path class="c" fill="#FF9933" d="M445.2 200.5C445.4 199.6 446.4 198.3 447.2 198C448.1 197.7 449.4 197.9 450.1 198.4C450.8 199 451.6 200.5 451.4 201.3C451.1 202.1 449.6 203.1 448.7 203.4C447.8 203.6 446.6 203.4 446 202.9C445.4 202.5 445 201.3 445.2 200.5Z"/>
<path class="c" fill="#FFFFCC" d="M455.9 176.2C456 175.6 456.9 174.6 457.5 174.5C458.1 174.5 459.3 175.1 459.6 175.8C459.9 176.4 459.7 177.8 459.2 178.2C458.7 178.6 457.3 178.6 456.7 178.2C456.2 177.9 455.7 176.8 455.9 176.2Z"/>
<path class="c" fill="#FF9933" d="M491.2 282.9C491.3 282.3 491.9 281 492.4 280.9C492.9 280.7 494.1 281.4 494.3 282.1C494.5 282.8 494.1 284.5 493.7 285C493.2 285.5 492.2 285.3 491.8 285C491.4 284.7 491.1 283.6 491.2 282.9Z"/>
<path class="c" fill="#FF9933" d="M487.1 288.5C487 288 488 287.1 488.5 287.1C489 287 490.1 287.8 490.2 288.3C490.2 288.8 489.2 290.1 488.7 290.1C488.2 290.2 487.1 289 487.1 288.5Z"/>
<path class="c" fill="#FF9933" d="M481.3 301.5C481.3 300.8 483.4 299.8 485 299C486.7 298.2 490.3 296.7 491.2 296.9C492 297.2 491.2 299.4 490.2 300.4C489.1 301.5 486.5 302.9 485 303.1C483.5 303.3 481.3 302.2 481.3 301.5Z"/>
<path class="c" fill="#FF9933" d="M432.5 274.3C432.5 273.8 433.3 273.1 433.7 273.1C434.2 273.1 435.1 273.8 435.2 274.3C435.2 274.7 434.4 275.7 433.9 275.7C433.5 275.7 432.5 274.7 432.5 274.3Z"/>
<path class="c" fill="#FFFFCC" d="M440.7 272.6C441.5 271.7 443.7 270.5 445.9 270.2C448.1 269.8 451.4 270.3 454.1 270.6C456.9 270.8 460 270.9 462.4 271.6C464.8 272.3 467.4 273.5 468.5 274.7C469.6 275.9 470 277.9 468.9 278.8C467.9 279.8 464.8 280.6 462.4 280.5C459.9 280.3 456.9 278.4 454.1 277.8C451.4 277.2 448 277.1 445.9 276.8C443.8 276.4 442.2 276.4 441.4 275.7C440.5 275 440 273.6 440.7 272.6Z"/>
<path class="c" fill="#FFFFCC" d="M59.3 187.1C59 184.1 61 180.5 62.8 177.8C64.6 175 67.6 172.8 70 170.6C72.4 168.4 75.3 166.6 77.2 164.4C79.1 162.2 79.8 159.3 81.3 157.2C82.9 155.1 83.9 152.7 86.5 151.6C89 150.6 94 150.3 96.8 151C99.5 151.8 101.6 153.9 102.9 156.2C104.3 158.4 104.5 161.5 105 164.4C105.5 167.3 106.2 170.8 106 173.7C105.9 176.6 105.1 179.2 104 181.9C102.8 184.7 101.1 187.8 99.2 190.1C97.3 192.4 95.3 194.2 92.6 195.7C90 197.3 86.6 198.8 83.4 199.4C80.1 200 76.2 200 73.1 199.4C70 198.8 67.2 197.8 64.9 195.7C62.6 193.6 59.6 190 59.3 187.1Z"/>
<path class="c" fill="#CCFFCC" d="M62.8 186C62.8 183.6 64.3 181.1 65.9 178.8C67.4 176.6 70 174.5 72.1 172.6C74.1 170.8 76.7 169.6 78.2 167.5C79.8 165.4 80.3 162.4 81.3 160.3C82.4 158.2 82.2 156.3 84.4 155.1C86.6 153.9 92.1 152.7 94.7 153.1C97.3 153.4 98.7 155.3 99.9 157.2C101.1 159.1 101.4 161.8 101.9 164.4C102.4 167 103.1 169.9 102.9 172.6C102.8 175.4 101.9 178.3 100.9 180.9C99.9 183.5 98.5 186 96.8 188.1C95.1 190.1 93 191.9 90.6 193.2C88.2 194.6 85.3 195.8 82.4 196.3C79.4 196.8 75.8 196.8 73.1 196.3C70.3 195.8 67.6 195 65.9 193.2C64.2 191.5 62.8 188.4 62.8 186Z"/>
<path class="c" fill="#66CC66" d="M66.3 186C66.6 184.2 68.1 181.8 69.6 179.9C71.1 177.9 73.4 176.2 75.1 174.3C76.9 172.4 79.2 170.7 80.3 168.5C81.4 166.4 81.1 163.5 81.9 161.3C82.8 159.2 83.5 156.9 85.4 155.8C87.4 154.6 91.6 154 93.7 154.5C95.7 155 96.9 156.7 97.8 158.6C98.7 160.6 98.9 163.8 99.2 166.5C99.5 169.1 100 172.1 99.6 174.7C99.3 177.3 98.4 179.9 97.4 181.9C96.3 184 94.8 185.6 93.3 187.1C91.7 188.5 90.1 189.5 88.1 190.6C86.1 191.6 83.7 192.8 81.3 193.2C78.9 193.7 75.9 193.6 73.7 193.2C71.5 192.8 69.2 192 67.9 190.8C66.7 189.6 66 187.8 66.3 186Z"/>
<path class="c" fill="#009900" d="M70 186C69.8 184.5 71.7 182.6 73.1 180.9C74.5 179.2 76.7 177.6 78.2 175.7C79.8 173.8 81.5 171.8 82.4 169.6C83.2 167.3 82.7 164.4 83.4 162.4C84.1 160.3 84.9 158.2 86.5 157.2C88 156.2 91.1 155.7 92.6 156.2C94.2 156.7 95.1 158.2 95.7 160.3C96.4 162.4 96.7 165.8 96.8 168.5C96.9 171.3 96.9 174.4 96.4 176.8C95.8 179.2 95 181.2 93.7 182.9C92.4 184.7 90.6 185.9 88.5 187.1C86.5 188.3 83.7 189.6 81.3 190.1C78.9 190.7 76 190.8 74.1 190.1C72.2 189.5 70.2 187.6 70 186Z"/>
<path class="c" fill="#6699FF" d="M84.8 164.4C84.9 162 85.5 159.6 86.5 158.2C87.4 156.9 89.3 156 90.6 156.2C91.9 156.3 93.5 157.5 94.3 159.3C95.1 161 95.2 164.1 95.1 166.5C95 168.9 94.6 172.1 93.7 173.7C92.8 175.2 90.8 175.9 89.6 175.7C88.3 175.6 86.8 174.5 86.1 172.6C85.3 170.8 84.8 166.8 84.8 164.4Z"/>
<path class="c" fill="#0000FF" d="M88.9 168.9C88.9 168.5 89.8 167.5 90.2 167.5C90.6 167.5 91.4 168.5 91.4 168.9C91.4 169.4 90.6 170.4 90.2 170.4C89.8 170.4 88.9 169.4 88.9 168.9Z"/>
<path class="c" fill="#66CC66" d="M73.7 185.6C73.7 185.3 74.4 184.6 74.7 184.6C75.1 184.6 75.8 185.3 75.8 185.6C75.8 186 75.1 186.6 74.7 186.6C74.4 186.6 73.7 186 73.7 185.6Z"/>
<path class="c" fill="#FF6633" d="M47.1 173.5C46.2 173.8 44.4 178.4 43.7 180.4C43 182.4 42.7 183.7 42.8 185.5C43 187.3 43.5 190.1 44.5 191C45.5 191.9 47.4 191.3 48.8 191C50.2 190.6 51.9 190.1 53.1 188.9C54.2 187.8 54.6 185.8 55.6 184.1C56.6 182.5 57.8 180.6 59.1 179C60.3 177.4 61.9 176 63.3 174.4C64.8 172.8 67.9 170.1 67.9 169.3C67.9 168.4 64.8 168.7 63.3 169.3C61.9 169.8 60.5 171.4 59.1 172.7C57.6 174 56.1 175.4 54.8 177C53.5 178.5 52.3 181.8 51.4 182.1C50.4 182.4 49.9 180.1 49.1 178.7C48.4 177.3 48 173.3 47.1 173.5Z"/>
<path class="c" fill="#FF6633" d="M57.6 211.8C57.8 209.5 58.3 207.2 59.7 205.6C61.1 203.9 63.5 202.6 65.9 201.9C68.3 201.2 71.4 201.4 74.1 201.5C76.9 201.6 79.6 202 82.4 202.5C85.1 203 88.2 203.5 90.6 204.6C93 205.6 94.7 207.3 96.8 208.7C98.8 210.1 101.2 211.3 102.9 212.8C104.7 214.3 106.7 216.1 107.1 217.9C107.4 219.8 106.2 222.4 105 224.1C103.8 225.8 101.6 226.7 99.9 228.2C98.1 229.8 96.6 232.1 94.7 233.4C92.8 234.7 90.6 236.1 88.5 236.1C86.5 236.1 84.2 234.5 82.4 233.4C80.5 232.3 79.1 230.6 77.2 229.3C75.3 227.9 73.3 226.2 71 225.1C68.8 224.1 65.9 224.1 63.8 223.1C61.8 222.1 59.7 220.9 58.7 219C57.6 217.1 57.5 214 57.6 211.8Z"/>
<path class="c" fill="#CC6633" d="M63.4 211.8C63.5 209.8 64.4 208.3 65.5 207.2C66.6 206.2 68.6 205.5 70 205.6C71.4 205.7 73.3 206.4 74.1 207.6C75 208.8 75.3 210.9 75.1 212.8C75 214.7 74.1 217.4 73.1 219C72.1 220.5 70.3 222.1 69 222.1C67.6 222.1 65.8 220.7 64.9 219C63.9 217.3 63.3 213.7 63.4 211.8Z"/>
<path class="c" fill="#CC6633" d="M80.3 212.8C80.6 211.4 81.3 209.6 82.4 208.7C83.4 207.8 85.2 207 86.5 207.2C87.8 207.5 89.4 208.7 90.2 210.1C90.9 211.5 91.3 213.9 91 215.5C90.7 217.1 89.4 218.9 88.1 219.6C86.8 220.3 84.6 220 83.4 219.6C82.1 219.1 81.2 218 80.7 216.9C80.2 215.8 80 214.2 80.3 212.8Z"/>
<path class="c" fill="#FF6633" d="M114.3 220C115 218.5 117.5 216.9 119.4 215.9C121.3 214.9 123.7 213.7 125.6 213.8C127.5 214 129.4 215.2 130.7 216.9C132.1 218.6 132.8 221.5 133.8 224.1C134.9 226.7 135.9 229.6 136.9 232.4C137.9 235.1 139.1 238.2 140 240.6C140.9 243 141.9 244.7 142.1 246.8C142.2 248.8 141.9 251.2 141 252.9C140.2 254.7 138.5 257.1 136.9 257.1C135.4 257.1 133.7 254 131.8 252.9C129.9 251.9 127.1 251.9 125.6 250.9C124 249.9 123.2 248.8 122.5 246.8C121.8 244.7 122 241.3 121.5 238.5C121 235.8 120.4 232.5 119.4 230.3C118.4 228.1 116.2 226.9 115.3 225.1C114.4 223.4 113.6 221.5 114.3 220Z"/>
<path class="c" fill="#FF6633" d="M98.8 255C99.4 253.6 102 251.6 103.8 251.2C105.5 250.9 108.4 251.8 109.5 253C110.6 254.2 111.2 257.4 110.5 258.8C109.8 260.1 107.2 261.1 105.5 261.2C103.8 261.4 101.1 260.5 100 259.5C98.9 258.5 98.1 256.4 98.8 255Z"/>
<path class="c" fill="#FFFFCC" d="M148.7 223.1C148.5 220.7 149.9 218.5 151.3 216.9C152.8 215.4 155.3 214.2 157.5 213.8C159.7 213.5 162.8 213.8 164.7 214.9C166.7 215.9 168.4 217.9 169.2 220C170.1 222.1 170.4 225.1 169.9 227.2C169.3 229.3 167.6 231.3 165.7 232.4C163.9 233.4 160.8 233.8 158.5 233.6C156.2 233.4 153.6 233.1 151.9 231.3C150.3 229.6 148.8 225.5 148.7 223.1Z"/>
<path class="c" fill="#CCFFCC" d="M151.9 223.7C151.8 222.5 153.1 221.2 154 220.6C154.9 220 156.5 219.6 157.5 220C158.5 220.4 159.6 222 159.8 223.1C159.9 224.2 159.4 226 158.5 226.8C157.7 227.6 155.9 228.3 154.8 227.8C153.7 227.3 152.1 224.9 151.9 223.7Z"/>
<path class="c" fill="#CCFFCC" d="M111.6 195.3C111.7 194.4 112.4 193.1 113.2 192.6C114 192.1 115.6 192 116.3 192.4C117.1 192.9 117.8 194.4 117.8 195.3C117.7 196.2 116.7 197.5 115.9 198C115.1 198.4 113.5 198.4 112.8 198C112.1 197.5 111.5 196.2 111.6 195.3Z"/>
<path class="c" fill="#FFFFCC" d="M39.1 203.5C40.5 202 45.1 202 47.4 202.5C49.6 203 51.5 204.7 52.5 206.6C53.5 208.5 54 212.1 53.5 213.8C53 215.5 51.1 216.6 49.4 216.9C47.7 217.3 45 216.7 43.2 215.9C41.5 215 39.8 213.8 39.1 211.8C38.4 209.7 37.7 205.1 39.1 203.5Z"/>
<path class="c" fill="#FFFFCC" d="M47.4 232.4C48 230.5 52.8 231.2 55.6 231.3C58.3 231.5 62.1 231.8 63.8 233.4C65.5 234.9 64.9 238.4 65.9 240.6C66.9 242.8 71 245.4 70 246.8C69 248.1 62.8 249.5 59.7 248.8C56.6 248.1 53.5 245.4 51.5 242.6C49.4 239.9 46.7 234.2 47.4 232.4Z"/>
<path class="c" fill="#CCFFCC" d="M43.2 207.6C43.9 206.6 46.3 206.1 47.4 206.6C48.4 207.1 49.6 209.5 49.4 210.7C49.2 212 47.4 213.9 46.3 214.2C45.3 214.6 43.8 213.9 43.2 212.8C42.7 211.7 42.5 208.7 43.2 207.6Z"/>
<path class="c" fill="#66CC66" d="M116.8 160.1C116.9 158.6 117.6 156.8 118.8 156C120 155.2 122.5 154.7 124 155.4C125.4 156.1 126.8 158.3 127.5 160.1C128.2 162 128.3 164.3 128.1 166.3C127.8 168.4 127.1 171.1 126 172.5C125 173.9 123.1 174.9 121.9 174.6C120.7 174.2 119.5 172 118.8 170.4C118.1 168.9 118.1 167 117.8 165.3C117.5 163.6 116.6 161.7 116.8 160.1Z"/>
<path class="c" fill="#009900" d="M118.8 159.5C118.9 159 119.9 158.2 120.5 158.1C121.1 158 122.3 158.6 122.5 159.1C122.8 159.6 122.4 160.8 121.9 161.2C121.5 161.5 120.4 161.5 119.9 161.2C119.3 160.9 118.7 160 118.8 159.5Z"/>
<path class="c" fill="#CCFFCC" d="M112.2 195.4C112.5 194.5 113.5 192.8 114.3 192.5C115.1 192.1 116.6 192.6 117.2 193.3C117.8 194 118.1 195.7 117.8 196.6C117.5 197.4 116 198.2 115.1 198.4C114.3 198.6 113.1 198.3 112.6 197.8C112.2 197.3 112 196.2 112.2 195.4Z"/>
<path class="c" fill="#FFCC99" d="M101.3 151.9C102.2 150.1 108.6 145.2 110.6 144.7C112.5 144.2 113.1 146.9 113.1 148.8C113.1 150.7 111.9 154.9 110.6 156C109.3 157.1 107 156.1 105.4 155.4C103.9 154.7 100.5 153.7 101.3 151.9Z"/>
<path class="c" fill="#FF9933" d="M99.3 149.9C100 148.5 102.5 145 104.4 144.3C106.3 143.5 109.7 144.2 110.6 145.3C111.4 146.4 110.6 149.6 109.6 150.9C108.5 152.2 106 152.7 104.4 152.9C102.9 153.2 101.2 153 100.3 152.5C99.4 152 98.6 151.2 99.3 149.9Z"/>
<path class="c" fill="#FF9933" d="M215.7 176.2C215.9 174.5 216.2 172.7 217.8 171C219.3 169.3 222.1 166.7 225 166.1C227.9 165.5 230.9 166.5 235.1 167.5C239.2 168.6 244.9 171.1 249.9 172.5C254.9 173.9 261.1 174.4 264.9 176C268.8 177.5 271 180 272.9 181.9C274.9 183.9 276 185.7 276.7 187.5C277.3 189.3 277.7 190.8 277.1 192.6C276.4 194.5 274.7 196.9 272.9 198.8C271.2 200.7 269 202.5 266.8 204C264.5 205.4 261.8 207.5 259.6 207.7C257.3 207.8 255.1 206.3 253.4 205C251.7 203.7 251.2 201.1 249.3 199.9C247.4 198.7 244.6 198.5 242.1 197.8C239.5 197.1 236.6 196.8 233.8 195.7C231.1 194.7 228 193.2 225.6 191.6C223.2 190.1 221 188.2 219.4 186.5C217.9 184.8 216.9 183 216.3 181.3C215.7 179.6 215.5 177.9 215.7 176.2Z"/>
<path class="c" fill="#FF6633" d="M253.4 189.6C253.6 188.2 254.9 186.5 256.5 185.4C258 184.4 260.6 183.6 262.6 183.4C264.7 183.2 267.5 183.6 268.8 184.4C270.2 185.3 271.1 187.2 270.9 188.5C270.7 189.9 269.3 191.6 267.8 192.6C266.3 193.7 263.7 194.5 261.6 194.7C259.6 194.9 256.8 194.5 255.4 193.7C254.1 192.8 253.2 190.9 253.4 189.6Z"/>
<path class="c" fill="#FF6633" d="M226.6 178.2C226.7 177.4 227.5 176 228.3 175.6C229 175.1 230.5 175.3 231.1 175.8C231.8 176.3 232.3 177.7 232.2 178.6C232 179.6 230.9 181 230.1 181.3C229.4 181.7 228.2 181.2 227.6 180.7C227.1 180.2 226.5 179.1 226.6 178.2Z"/>
<path class="c" fill="#FF9933" d="M277.2 166.8C277.2 166.2 278.1 165.1 278.6 165.1C279.2 165.1 280.3 166.2 280.3 166.8C280.3 167.4 279.4 168.6 278.9 168.6C278.3 168.6 277.2 167.4 277.2 166.8Z"/>
<path class="c" fill="#FFCC99" d="M267.9 128.1C267.9 125.7 269.3 123.1 271 120.9C272.7 118.7 275.7 116.6 278.2 114.7C280.8 112.8 283.4 111.1 286.5 109.6C289.6 108 293.3 106.6 296.8 105.4C300.2 104.3 304.1 102.8 307.1 102.8C310 102.8 312.4 104 314.3 105.4C316.2 106.9 317.5 109.2 318.4 111.6C319.2 114 319.8 116.9 319.4 119.9C319.1 122.8 317.7 126.4 316.3 129.1C315 131.9 313.4 134.1 311.2 136.3C308.9 138.6 305.7 141 302.9 142.5C300.2 144 297.5 144.9 294.7 145.2C292 145.4 289.2 144.7 286.5 143.9C283.7 143.2 280.8 141.9 278.2 140.4C275.7 139 272.7 137.4 271 135.3C269.3 133.2 267.9 130.5 267.9 128.1Z"/>
<path class="c" fill="#FF9933" d="M279.3 129.1C279.3 127.4 280 125.5 281.3 124C282.7 122.4 285.3 121.2 287.5 119.9C289.7 118.5 292.1 116.9 294.7 115.7C297.3 114.6 300.7 113.3 302.9 113.1C305.2 112.8 306.9 113.3 308.1 114.3C309.3 115.3 310.3 117.2 310.2 118.8C310 120.4 308.3 122.3 307.1 124C305.9 125.7 304.5 127.4 302.9 129.1C301.4 130.8 299.7 132.8 297.8 134.3C295.9 135.7 293.7 137.3 291.6 137.8C289.6 138.3 287.2 137.9 285.4 137.4C283.7 136.8 281.9 135.6 280.9 134.3C279.9 132.9 279.2 130.8 279.3 129.1Z"/>
<path class="c" fill="#CCFFCC" d="M232.9 137.8C232.9 136.8 233.8 135.4 234.6 134.9C235.3 134.3 236.7 134.1 237.5 134.5C238.2 134.9 239.1 136.4 239.1 137.4C239.2 138.3 238.4 139.9 237.7 140.4C236.9 141 235.4 141.3 234.6 140.9C233.8 140.4 232.9 138.8 232.9 137.8Z"/>
<path class="c" fill="#CCFFCC" d="M259.3 161C259.4 160.1 260.2 158.8 260.9 158.4C261.7 157.9 263.1 157.9 263.8 158.4C264.5 158.8 265.2 160.3 265.1 161.2C265 162.2 264 163.5 263.2 163.9C262.4 164.3 261 164.2 260.3 163.7C259.7 163.2 259.2 161.9 259.3 161Z"/>
<path class="c" fill="#FFCC99" d="M311.2 95.1C311.1 94.4 312.2 93.5 312.8 93.3C313.4 93.1 314.5 93.6 314.9 94.1C315.3 94.7 315.6 96 315.3 96.6C315 97.2 313.9 97.9 313.2 97.6C312.6 97.4 311.2 95.9 311.2 95.1Z"/>
<path class="c" fill="#66CC66" d="M235 271.5C234.7 268.7 235 266 236 263.2C237.1 260.5 238.9 257.7 241.2 255C243.4 252.3 246.7 249.2 249.4 246.8C252.2 244.4 256.1 241.7 257.7 240.6C259.2 239.5 257 241.5 258.5 240C260.1 238.5 264.4 234.5 266.8 231.8C269.2 229 270.9 225.6 272.9 223.5C275 221.5 276.7 220.4 279.1 219.4C281.5 218.5 285.5 217.3 287.4 217.8C289.2 218.3 288.2 221.2 290 222.5C291.8 223.8 295.5 224.6 298.2 225.6C301 226.6 303.9 229.2 306.5 228.7C309 228.2 311.3 223.8 313.7 222.5C316.1 221.2 318 221.2 320.9 221.1C323.8 220.9 327.7 221.2 331.2 221.5C334.6 221.7 338 222 341.5 222.5C344.9 223 348.7 224 351.8 224.6C354.9 225.1 358.5 226.8 360 225.6C361.5 224.4 360.9 220.4 361 217.4C361.2 214.3 360.9 210.1 361 207.1C361.2 204 361 201.2 362.1 198.8C363.1 196.4 366.2 194.7 367.2 192.6C368.2 190.6 366.7 188.2 368.2 186.5C369.8 184.8 373.4 182.9 376.5 182.4C379.6 181.8 383.7 184.1 386.8 183.4C389.9 182.7 391.9 179.1 395 178.2C398.1 177.4 401.9 177.7 405.3 178.2C408.7 178.8 413.2 179.4 415.6 181.3C418 183.2 419.7 186.8 419.7 189.6C419.7 192.3 417.7 195.7 415.6 197.8C413.5 199.9 410.1 200.9 407.4 201.9C404.6 202.9 401.9 203.8 399.1 204C396.4 204.1 392.9 202.4 390.9 202.9C388.8 203.5 387.6 205 386.8 207.1C385.9 209.1 386.1 212.6 385.7 215.3C385.4 218 385.4 220.8 384.7 223.5C384 226.3 382.6 229.4 381.6 231.8C380.6 234.2 378.5 236.2 378.5 237.9C378.5 239.7 379.9 240.7 381.6 242.1C383.3 243.4 386.6 245 388.8 246.2C391.1 247.4 393.8 247.9 395 249.3C396.2 250.6 396 253.7 396 254.4C396.1 255.1 397.1 253.5 395.3 253.7C393.5 253.9 386.9 254.4 385 255.7C383.1 257.1 384.7 260 384 261.9C383.3 263.8 381.6 265 380.9 267.1C380.2 269.1 379.9 272 379.9 274.3C379.9 276.5 379.7 278.9 380.9 280.4C382.1 282 385 282.5 387.1 283.5C389.1 284.6 391.5 285.2 393.2 286.6C395 288 396.2 289.5 397.4 291.8C398.6 294 399.4 297.3 400.4 300C401.5 302.7 402.7 305.8 403.5 308.2C404.4 310.6 405.6 312.4 405.6 314.4C405.6 316.5 404.7 318.9 403.5 320.6C402.3 322.3 399.8 323.5 398.4 324.7C397 325.9 397.2 327.2 395 328C392.8 328.8 388.8 329.8 385 329.2C381.2 328.8 376.7 326.5 372.5 325C368.3 323.5 364.4 321.7 360 320.5C355.6 319.3 350.4 319.2 346.2 318C342.1 316.8 338.3 315.3 335 313C331.7 310.7 328.8 305.1 326.2 304.2C323.8 303.4 322.5 305.7 320 308C317.5 310.3 313.5 314.7 311.2 318C309 321.3 308.1 327.7 306.2 328C304.4 328.3 301.5 322.8 300 320C298.5 317.2 298.5 314 297.5 311.2C296.5 308.5 295.8 306.5 293.8 303.8C291.7 301 288.1 297.3 285 295C281.9 292.7 278.3 291.5 275 290C271.7 288.5 267.5 287.3 265 286.2C262.5 285.2 261.7 283 260 283.8C258.3 284.5 257.5 289.5 255 291C252.5 292.5 243.9 293.7 245 293C246.1 292.3 260.3 288.6 261.8 286.9C263.2 285.2 256.3 283.3 253.5 282.8C250.8 282.3 247.9 284.3 245.3 283.8C242.7 283.3 239.8 281.8 238.1 279.7C236.4 277.6 235.3 274.2 235 271.5Z"/>
<path class="c" fill="#009900" d="M248.2 265.9C248.8 264.8 250 260.8 252.4 258.5C254.8 256.3 259.2 254.4 262.6 252.4C266.1 250.3 270.2 248.2 272.9 246.2C275.7 244.1 277.6 242.4 279.1 240C280.7 237.6 281.2 233.8 282.2 231.8C283.2 229.7 283.8 228.6 285.3 227.6C286.8 226.7 289.8 225.7 291.5 226C293.2 226.3 295.1 227.7 295.6 229.7C296.1 231.7 295.6 235.5 294.6 237.9C293.5 240.3 289.9 242.1 289.4 244.1C288.9 246.2 290 249.2 291.5 250.3C293 251.4 296 250.7 298.5 250.6C301.1 250.5 304.4 248.9 306.8 249.6C309.2 250.2 310.9 252.8 312.9 254.7C315 256.6 316.5 260 319.1 260.9C321.7 261.7 325.8 260.5 328.4 259.9C331 259.2 333.4 258.3 334.6 256.8C335.8 255.2 336.1 252.5 335.6 250.6C335.1 248.7 332.7 247.5 331.5 245.4C330.3 243.4 328.7 240.8 328.4 238.2C328 235.7 328.4 231.2 329.4 230C330.4 228.8 332.3 231 334.3 230.7C336.3 230.4 338.9 228.4 341.5 228.3C344 228.1 347.1 228.8 349.7 229.7C352.3 230.6 355 232.1 356.9 233.8C358.8 235.5 358.8 238.4 361 240C363.3 241.6 367.6 242.1 370.6 243.4C373.6 244.6 376.8 245.6 378.8 247.5C380.9 249.4 382.4 252.5 382.9 254.7C383.5 256.9 382.9 259.3 381.9 260.9C380.9 262.4 377.8 262.3 376.8 264C375.7 265.7 376.3 268.6 375.7 271.2C375.2 273.8 373.5 277.4 373.7 279.4C373.9 281.5 375.2 282.7 376.8 283.5C378.3 284.4 380.9 284 382.9 284.6C385 285.1 387.6 285.4 389.1 286.6C390.7 287.8 391.2 289.9 392.2 291.8C393.2 293.7 394.3 295.5 395.3 297.9C396.3 300.3 397.5 303.4 398.4 306.2C399.2 308.9 400.6 312 400.4 314.4C400.3 316.8 398.9 319 397.4 320.6C395.8 322.1 393.2 323.3 391.2 323.7C389.1 324 387.2 323.5 385 322.6C382.8 321.8 380.2 319.9 377.8 318.5C375.4 317.2 373.2 315.3 370.6 314.4C368 313.6 365.1 313.4 362.4 313.4C359.6 313.4 356.9 314.6 354.1 314.4C351.4 314.2 348.3 313.4 345.9 312.4C343.5 311.3 341.8 309.6 339.7 308.2C337.6 306.9 335.4 305.5 333.5 304.1C331.6 302.7 329.8 301 328.4 300C327 299 326 297.6 325.3 297.9C324.6 298.3 325.1 300.3 324.3 302.1C323.4 303.8 322 306.5 320.1 308.2C318.3 310 314.5 312.4 312.9 312.4C311.4 312.4 311.7 310 310.9 308.2C310 306.5 309.5 303.8 307.8 302.1C306.1 300.3 303.2 299.3 300.6 297.9C298 296.6 294.4 295.4 292.4 293.8C290.3 292.3 288.6 290.7 288.2 288.7C287.9 286.6 290.1 283.9 290.3 281.5C290.5 279.1 290.3 275.6 289.3 274.3C288.2 272.9 285.7 273.1 284.1 273.2C282.6 273.4 282.8 274.4 280 275.3C277.2 276.2 271.2 278.6 267.5 278.8C263.8 278.9 260.2 277.3 257.5 276.2C254.8 275.2 252.7 274.3 251.2 272.5C249.8 270.7 249.3 266.6 248.8 265.5C248.2 264.4 247.6 267.1 248.2 265.9Z"/>
<path class="c" fill="#66CC66" d="M333.5 273.2C334.5 271.9 337.3 271.7 338.7 270.1C340.1 268.6 340.6 265.2 341.8 264C343 262.8 344.9 262.3 345.9 262.9C346.8 263.6 347.7 266.4 347.5 268.1C347.4 269.8 345.8 271.5 344.9 273.2C343.9 275 343.1 277 341.8 278.4C340.4 279.8 338.1 281.5 336.6 281.5C335.2 281.5 333.6 279.8 333.1 278.4C332.6 277 332.6 274.6 333.5 273.2Z"/>
<path class="c" fill="#66CC66" d="M365.4 290.7C365.8 289.4 368.7 287.6 370.6 286.6C372.5 285.6 374.7 284.7 376.8 284.6C378.8 284.4 380.9 284.9 382.9 285.6C385 286.3 387.7 287.3 389.1 288.7C390.5 290.1 391.5 292.5 391.2 293.8C390.8 295.2 388.8 296.6 387.1 296.9C385.3 297.3 382.9 296.2 380.9 295.9C378.8 295.5 376.8 295 374.7 294.9C372.6 294.7 370.1 295.5 368.5 294.9C367 294.2 365.1 292.1 365.4 290.7Z"/>
<path class="c" fill="#FFFFCC" d="M376.8 291.8C376.8 290.8 377.6 289.6 378.4 289.1C379.2 288.6 380.7 288.4 381.5 288.9C382.3 289.3 382.9 290.8 382.9 291.8C382.9 292.8 382.3 294.3 381.5 294.9C380.7 295.4 379 295.6 378.2 295.1C377.4 294.5 376.7 292.8 376.8 291.8Z"/>
<path class="c" fill="#CCFFCC" d="M324.9 253.7C325 252.9 325.8 251.8 326.5 251.4C327.3 251.1 328.8 251.1 329.4 251.6C330.1 252.1 330.6 253.5 330.4 254.3C330.3 255.1 329.3 256 328.6 256.4C327.8 256.7 326.5 256.6 325.9 256.1C325.3 255.7 324.8 254.5 324.9 253.7Z"/>
<path class="c" fill="#CCFFCC" d="M363.4 282.7C363.4 282.3 364.2 281.5 364.6 281.5C365.1 281.5 366 282.3 366.1 282.7C366.1 283.2 365.3 284.1 364.8 284.1C364.4 284.1 363.4 283.2 363.4 282.7Z"/>
<path class="c" fill="#6699FF" d="M298.1 266C298.5 264.4 300.3 263 301.6 263.4C302.9 263.7 304.2 266.3 305.7 268.1C307.3 269.9 309.1 272.4 310.9 274.3C312.7 276.2 315.8 277.2 316.6 279.4C317.5 281.6 316.5 284.9 316 287.6C315.6 290.4 314.7 293.7 314 295.9C313.3 298.1 312.8 301 311.9 301C311.1 301 310 297.8 308.8 295.9C307.6 294 305.9 292.1 304.7 289.7C303.5 287.3 302.5 284.2 301.6 281.5C300.8 278.7 300.1 275.8 299.6 273.2C299 270.7 297.8 267.7 298.1 266Z"/>
<path class="c" fill="#6699FF" d="M357.8 254.7C358.1 252.1 359 250.7 360.3 249.6C361.6 248.5 363.6 247.9 365.4 248.1C367.3 248.3 370.1 249.3 371.6 250.6C373.2 251.9 374.5 254 374.7 255.7C374.9 257.5 373.7 259.3 372.6 260.9C371.6 262.4 369.7 263.5 368.5 265C367.3 266.5 366.5 268.3 365.4 270.1C364.4 272 363.3 275.6 362.4 276.3C361.4 277 360.5 276.2 359.9 274.3C359.3 272.4 359 268.3 358.6 265C358.3 261.7 357.6 257.3 357.8 254.7Z"/>
<path class="c" fill="#6699FF" d="M342.8 286.6C343.1 285.4 345.4 284.5 346.9 283.9C348.5 283.4 350.5 283.9 352.1 283.1C353.6 282.4 355 279.5 356.2 279.4C357.4 279.3 358.8 280.8 359.3 282.5C359.8 284.2 359.6 287.5 359.3 289.7C358.9 291.9 358.2 294.8 357.2 295.5C356.2 296.2 354.5 294.4 353.1 293.8C351.7 293.2 350.3 292.2 349 291.8C347.6 291.4 345.9 292.2 344.9 291.4C343.8 290.5 342.5 287.9 342.8 286.6Z"/>
<path class="c" fill="#6699FF" d="M335.6 295.9C335.8 295.2 337.5 294.2 338.7 294.2C339.9 294.2 342.3 295.1 342.8 295.9C343.3 296.6 342.6 298.3 341.8 298.8C340.9 299.2 338.7 299 337.6 298.6C336.6 298.1 335.4 296.6 335.6 295.9Z"/>
<path class="c" fill="#6699FF" d="M375.7 310.3C375.7 309.4 377.6 307.3 378.8 306.2C380 305.1 381.7 303.8 382.9 303.7C384.1 303.6 385.9 304.8 386 305.8C386.2 306.7 385.2 308.3 384 309.3C382.8 310.3 380.2 311.6 378.8 311.7C377.5 311.9 375.7 311.2 375.7 310.3Z"/>
<path class="c" fill="#009900" d="M364.1 200.9C364.9 198.5 366.5 196.6 368.2 194.7C370 192.8 372.7 190.5 374.4 189.6C376.1 188.6 377.7 188.1 378.5 188.9C379.4 189.8 378.9 193.1 379.6 194.7C380.2 196.4 381.3 197.5 382.6 198.8C384 200.2 387.6 201.9 387.8 202.9C388 204 385.1 204.3 383.7 205C382.3 205.7 379.9 205.7 379.6 207.1C379.2 208.4 381.1 210.8 381.6 213.2C382.1 215.6 382.8 218.7 382.6 221.5C382.5 224.2 381.6 227.3 380.6 229.7C379.6 232.1 378 234.7 376.5 235.9C374.9 237.1 373 237.4 371.3 236.9C369.6 236.4 367.4 234.7 366.2 232.8C365 230.9 364.4 228.2 364.1 225.6C363.8 223 364.6 220.1 364.5 217.4C364.5 214.6 363.8 211.9 363.7 209.1C363.6 206.4 363.4 203.3 364.1 200.9Z"/>
<path class="c" fill="#6699FF" d="M371.3 230.7C371.5 230.1 372.3 228.7 372.8 228.7C373.3 228.6 374.3 229.6 374.4 230.3C374.6 231 374 232.4 373.6 232.8C373.2 233.2 372.3 233.1 371.9 232.8C371.6 232.5 371.2 231.4 371.3 230.7Z"/>
<path class="c" fill="#009900" d="M401.2 185.4C401.9 183.1 403.4 182.5 405.3 181.9C407.2 181.4 410.4 181.4 412.5 182.4C414.6 183.3 417 185.4 417.7 187.5C418.3 189.6 417.7 192.6 416.6 194.7C415.6 196.8 413.4 198.9 411.5 199.9C409.6 200.8 407 201.2 405.3 200.5C403.6 199.8 401.9 198.2 401.2 195.7C400.5 193.2 400.5 187.7 401.2 185.4Z"/>
<path class="c" fill="#6699FF" d="M407.6 188.1C407.6 187.8 408.2 187.1 408.6 187.1C408.9 187.1 409.6 187.8 409.6 188.1C409.6 188.5 408.9 189.1 408.6 189.1C408.2 189.1 407.6 188.5 407.6 188.1Z"/>
<path class="c" fill="#FFFFCC" d="M388.8 191.6C389.2 190.7 390.7 189.6 391.9 189.6C393.1 189.6 395.2 190.6 396 191.6C396.9 192.6 397.6 194.9 397.1 195.7C396.5 196.6 394.1 196.9 392.9 196.8C391.7 196.7 390.5 196 389.9 195.1C389.2 194.3 388.5 192.5 388.8 191.6Z"/>
<path class="c" fill="#66CC66" d="M343.1 181.3C343.4 179.6 345.2 177.3 346.6 176.6C348.1 175.9 350.6 176.4 351.8 177.2C353 178 354 179.8 353.8 181.3C353.7 182.8 352.2 185.1 350.7 186.1C349.3 187 346.4 187.7 345.2 186.9C343.9 186.1 342.9 183 343.1 181.3Z"/>
<path class="c" fill="#FFFFCC" d="M334.9 200.9C335.3 198.7 336.6 196.3 338.4 194.7C340.2 193.2 343.2 191.8 345.6 191.6C348 191.4 350.8 192.1 352.8 193.7C354.8 195.2 356.5 198.1 357.5 200.9C358.6 203.6 359.2 207.4 359 210.1C358.7 212.9 357.6 216 355.9 217.4C354.2 218.7 351.3 218.9 348.7 218.4C346.1 217.9 342.6 216 340.4 214.3C338.3 212.6 336.6 210.3 335.7 208.1C334.8 205.9 334.4 203.1 334.9 200.9Z"/>
<path class="c" fill="#FFCC99" d="M341.5 200.9C341.8 199.1 343 197 344.6 196.4C346.1 195.7 349 195.8 350.7 196.8C352.5 197.7 353.9 199.9 354.9 201.9C355.8 204 356.6 207.2 356.3 209.1C356 211 354.4 212.7 352.8 213.2C351.2 213.8 348.3 213.2 346.6 212.2C344.9 211.2 343.4 208.9 342.5 207.1C341.6 205.2 341.1 202.7 341.5 200.9Z"/>
<path class="c" fill="#FFFFCC" d="M353.8 174.1C353.8 172.3 352.8 169 355.9 167.9C359 166.9 368.9 166.7 372.4 167.9C375.8 169.1 376.5 173.2 376.5 175.1C376.5 177.1 374.8 179 372.4 179.9C370 180.8 364.8 180.9 362.1 180.7C359.3 180.5 357.3 179.7 355.9 178.6C354.5 177.5 353.8 175.9 353.8 174.1Z"/>
<path class="c" fill="#FFCC99" d="M359 173.1C359 171.7 359.7 169.7 361 169C362.4 168.3 365.8 168.1 367.2 169C368.6 169.8 369.6 172.6 369.3 174.1C368.9 175.6 366.5 177.3 365.1 177.8C363.8 178.3 362.1 178 361 177.2C360 176.4 359 174.5 359 173.1Z"/>
<path class="c" fill="#66CC66" d="M323.5 169.3C323.4 168.7 325.1 167.8 326 167.8C326.9 167.9 328.6 168.9 328.7 169.5C328.8 170.1 327.5 171.4 326.6 171.3C325.8 171.3 323.6 169.9 323.5 169.3Z"/>
<path class="c" fill="#66CC66" d="M287.5 176.5C287.7 173.9 289 171.7 290.6 170.3C292.1 168.9 294.5 168.3 296.8 168.2C299 168.2 302.2 168.5 304 169.9C305.8 171.3 306.8 174 307.5 176.5C308.2 178.9 308.8 182.5 308.1 184.7C307.3 186.9 305.2 188.8 302.9 189.9C300.7 190.9 296.9 191.6 294.7 190.9C292.5 190.2 290.8 188.1 289.6 185.7C288.4 183.3 287.3 179 287.5 176.5Z"/>
<path class="c" fill="#009900" d="M297.8 178.1C297.9 177.4 298.8 176.1 299.4 176.1C300.1 176 301.6 177 301.9 177.7C302.2 178.4 301.8 179.7 301.3 180.2C300.8 180.7 299.4 180.9 298.8 180.6C298.2 180.2 297.7 178.9 297.8 178.1Z"/>
<path class="c" fill="#66CC66" d="M164.6 285.9C164.9 284.2 166.5 282.8 168.1 281.8C169.7 280.7 172.2 279.5 174.3 279.7C176.3 279.9 178.6 282.6 180.4 282.8C182.3 283 183.7 281.4 185.6 280.7C187.5 280.1 189.4 278.8 191.8 278.7C194.2 278.5 197.3 279 200 279.7C202.7 280.4 205.5 281.8 208.2 282.8C211 283.8 214.8 284.7 216.5 285.9C218.1 287.1 218.8 288.7 218.1 290C217.4 291.3 215.4 292.6 212.4 293.7C209.3 294.8 203.4 295.7 200 296.6C196.6 297.5 194.2 298.1 191.8 299.3C189.4 300.4 187.8 302.4 185.6 303.4C183.4 304.4 180.8 305.4 178.4 305.4C176 305.4 172.9 304.4 171.2 303.4C169.5 302.4 168.3 300.5 168.1 299.3C167.9 298.1 170.5 297.4 170.1 296.2C169.8 295 167 293.8 166 292.1C165.1 290.3 164.2 287.6 164.6 285.9Z"/>
<path class="c" fill="#009900" d="M190.1 291C190.3 289.1 191.5 287.8 192.8 286.9C194.1 286 196.1 285.3 197.9 285.5C199.8 285.6 202.6 286.7 204.1 287.9C205.7 289.2 207.9 291.5 207.2 293.1C206.5 294.6 202.6 296.4 200 297.2C197.4 298.1 193.4 299.3 191.8 298.2C190.1 297.2 189.9 292.9 190.1 291Z"/>
<path class="c" fill="#FFFFCC" d="M213.4 264.7C213.4 264.2 214.3 263.2 214.8 263.2C215.3 263.2 216.4 264.2 216.5 264.7C216.5 265.2 215.5 266.3 215 266.3C214.5 266.3 213.4 265.2 213.4 264.7Z"/>
<path class="c" fill="#FFFFCC" d="M214.4 273.9C214.7 272.9 215.7 271.3 216.5 271.1C217.2 270.8 218.4 271.6 218.9 272.5C219.5 273.4 219.9 275.6 219.6 276.6C219.2 277.6 217.7 278.6 216.9 278.7C216.1 278.8 215.2 278 214.8 277.2C214.4 276.4 214.1 275 214.4 273.9Z"/>
<path class="c" fill="#CCFFCC" d="M72.5 285C74.8 278.8 80.8 286.7 83.8 287.5C86.7 288.3 87.9 288.5 90 290C92.1 291.5 94.6 294 96.2 296.2C97.9 298.5 99 301 100 303.8C101 306.5 101.4 309.4 102 312.5C102.6 315.6 103.2 319.6 103.8 322.5C104.3 325.4 104.9 327.5 105.5 330C106.1 332.5 107.5 334.8 107.5 337.5C107.5 340.2 111.3 344.8 105.5 346.2C99.7 347.7 78.4 349.8 72.5 346.2C66.6 342.7 70 335.2 70 325C70 314.8 70.2 291.2 72.5 285Z"/>
<path class="c" fill="#66CC66" d="M85.5 302.5C85.4 301.3 86.6 299.5 87.5 299.2C88.4 299 90.1 299.8 90.8 300.8C91.4 301.7 91.7 304 91.2 305C90.8 306 89 306.9 88 306.5C87 306.1 85.6 303.7 85.5 302.5Z"/>
<path class="c" fill="#66CC66" d="M85 312C85.1 311.5 87.3 311.1 88.8 311.2C90.2 311.4 92.9 312.4 93.5 313C94.1 313.6 93.4 314.8 92.5 315C91.6 315.2 89.2 315 88 314.5C86.8 314 84.9 312.5 85 312Z"/>
<path class="c" fill="#66CC66" d="M85.5 324.5C85.7 323.6 87.5 322.4 88.8 322.5C90 322.6 92.7 324 93.2 325C93.8 326 93 328 92 328.5C91 329 88.6 328.7 87.5 328C86.4 327.3 85.3 325.4 85.5 324.5Z"/>
<path class="c" fill="#66CC66" d="M100 325C100 324.6 100.8 323.8 101.2 323.8C101.7 323.8 102.5 324.6 102.5 325C102.5 325.4 101.7 326.2 101.2 326.2C100.8 326.2 100 325.4 100 325Z"/>
<path class="c" fill="#FFFFCC" d="M105.5 317C105.5 316.5 106.5 315.5 107 315.5C107.5 315.5 108.7 316.5 108.8 317C108.8 317.5 107.8 318.8 107.2 318.8C106.7 318.8 105.5 317.5 105.5 317Z"/>
<path class="c" fill="#FFCC99" d="M104.5 293.8C104.3 293.5 107.2 296.5 108.8 296.2C110.3 296 111.9 293.5 113.8 292.5C115.6 291.5 117.7 290 120 290C122.3 290 125 291.2 127.5 292.5C130 293.8 132.9 295.4 135 297.5C137.1 299.6 139 302.5 140 305C141 307.5 141.5 310.2 141.2 312.5C141 314.8 140 317.3 138.8 318.8C137.5 320.2 135.2 321.5 133.8 321.2C132.3 321 131.7 318.5 130 317.5C128.3 316.5 125.8 315.6 123.8 315.5C121.7 315.4 119.4 317.3 117.5 317C115.6 316.7 114.2 315.1 112.5 313.8C110.8 312.4 108.7 310.4 107.5 308.8C106.3 307.1 104.9 305 105.5 303.8C106.1 302.5 110.5 302.3 111.2 301.2C112 300.2 111.1 298.8 110 297.5C108.9 296.2 104.7 294 104.5 293.8Z"/>
<path class="c" fill="#FF9933" d="M120 303.8C120 302.9 121.5 301.5 122.5 301.2C123.5 301 125.2 301.8 125.8 302.5C126.3 303.2 126.3 304.8 125.8 305.5C125.2 306.2 123.5 306.8 122.5 306.5C121.5 306.2 120 304.6 120 303.8Z"/>
<path class="c" fill="#66CC66" d="M109.5 280.5C109.5 279.9 110.7 278.8 111.2 278.8C111.8 278.8 113 279.9 113 280.5C113 281.1 111.8 282.5 111.2 282.5C110.7 282.5 109.5 281.1 109.5 280.5Z"/>
<path class="c" fill="#FFFFCC" d="M283.8 301.2C283.5 299.6 285.8 297.5 287.5 297C289.2 296.5 292.1 296.9 293.8 298C295.4 299.1 297.3 302.2 297.5 303.8C297.7 305.3 296.5 307 295 307.5C293.5 308 290.6 308 288.8 307C286.9 306 284 302.9 283.8 301.2Z"/>
<path class="c" fill="#FFCC99" d="M288.8 303C288.7 302.3 289.9 301 290.5 301C291.1 301 292.5 302.3 292.5 303C292.5 303.7 291.4 305 290.8 305C290.1 305 288.8 303.7 288.8 303Z"/>
<path class="c" fill="#FFFFCC" d="M330 320C330.1 318.1 331.2 315.4 332.5 315C333.8 314.6 335.6 316.2 337.5 317.5C339.4 318.8 341.5 321 343.8 322.5C346 324 349 324.8 351.2 326.2C353.5 327.7 355.9 329 357 331.2C358.1 333.5 358.1 336.9 358 340C357.9 343.1 357 347.1 356.2 350C355.5 352.9 354.7 356.7 353.8 357.5C352.8 358.3 350.9 356.7 350.5 355C350.1 353.3 351.8 349.8 351.2 347.5C350.8 345.2 349 343.1 347.5 341.2C346 339.4 344.4 337.9 342.5 336.2C340.6 334.6 338 332.9 336.2 331.2C334.5 329.6 333 328.1 332 326.2C331 324.4 329.9 321.9 330 320Z"/>
<path fill="none" stroke="#000" stroke-width="1" stroke-linejoin="round" d="M367.5 333.8C367.7 331.5 369.4 330.8 371.2 330C373.1 329.2 376 328.1 378.8 328.8C381.5 329.4 384.6 332.1 387.5 333.8C390.4 335.4 393.3 337.5 396.2 338.8C399.2 340 402.7 342.1 405 341.2C407.3 340.4 408.5 335.4 410 333.8C411.5 332.1 413.3 331.7 413.8 331.2C414.2 330.8 411.9 330 412.5 331.2C413.1 332.5 415.4 336.9 417.5 338.8C419.6 340.6 422.9 340.8 425 342.5C427.1 344.2 427.7 348.1 430 348.8C432.3 349.4 436.5 347.5 438.8 346.2C441 345 442.1 343.1 443.8 341.2C445.4 339.4 447.3 337.3 448.8 335C450.2 332.7 451.5 330 452.5 327.5C453.5 325 455 322.3 455 320C455 317.7 454 315 452.5 313.8C451 312.5 447.5 311.7 446.2 312.5C445 313.3 444.6 317.1 445 318.8C445.4 320.4 447.1 321.5 448.8 322.5C450.4 323.5 453.1 325.4 455 325C456.9 324.6 458.5 321.9 460 320C461.5 318.1 462.1 315.2 463.8 313.8C465.4 312.3 467.3 311.7 470 311.2C472.7 310.8 476.7 310.6 480 311.2C483.3 311.9 488.3 301 490 315C491.7 329 504.2 381.7 490 395C475.8 408.3 420 397.7 405 395C390 392.3 402.1 382.5 400 378.8C397.9 375 395 374.4 392.5 372.5C390 370.6 387.3 369.6 385 367.5C382.7 365.4 380.6 362.5 378.8 360C376.9 357.5 375.2 355.2 373.8 352.5C372.3 349.8 371 346.9 370 343.8C369 340.6 367.3 336 367.5 333.8Z"/>
<path fill="none" stroke="#000" stroke-width="1" stroke-linejoin="round" d="M443.8 317.9C443.8 316.2 445.5 314 446.9 312.8C448.3 311.6 450.7 310.6 452.1 310.7C453.4 310.9 454.5 312.5 455.1 313.8C455.8 315.2 455.3 318.8 456.2 319C457 319.1 458.6 316.1 460.3 314.9C462 313.7 464.4 312.1 466.5 311.8C468.5 311.4 470.6 312.8 472.6 312.8C474.7 312.8 478.1 310.6 478.8 311.8C479.5 313 478.1 318.3 476.8 320C475.4 321.7 472.3 320.7 470.6 322.1C468.9 323.4 467.8 326.5 466.5 328.2C465.1 330 463.7 330.6 462.4 332.4C461 334.1 459.3 336.3 458.2 338.5C457.2 340.8 457.2 345.6 456.2 345.9C455.1 346.3 453.1 342.9 452.1 340.6C451 338.3 450.2 334.8 450 332.4C449.8 330 451.5 327.7 451 326.2C450.5 324.6 448.1 324.5 446.9 323.1C445.7 321.7 443.8 319.7 443.8 317.9Z"/>
<path fill="#FFFFCC" d="M367.5 333.8C367.7 331.5 369.4 330.8 371.2 330C373.1 329.2 376 328.1 378.8 328.8C381.5 329.4 384.6 332.1 387.5 333.8C390.4 335.4 393.3 337.5 396.2 338.8C399.2 340 402.7 342.1 405 341.2C407.3 340.4 408.5 335.4 410 333.8C411.5 332.1 413.3 331.7 413.8 331.2C414.2 330.8 411.9 330 412.5 331.2C413.1 332.5 415.4 336.9 417.5 338.8C419.6 340.6 422.9 340.8 425 342.5C427.1 344.2 427.7 348.1 430 348.8C432.3 349.4 436.5 347.5 438.8 346.2C441 345 442.1 343.1 443.8 341.2C445.4 339.4 447.3 337.3 448.8 335C450.2 332.7 451.5 330 452.5 327.5C453.5 325 455 322.3 455 320C455 317.7 454 315 452.5 313.8C451 312.5 447.5 311.7 446.2 312.5C445 313.3 444.6 317.1 445 318.8C445.4 320.4 447.1 321.5 448.8 322.5C450.4 323.5 453.1 325.4 455 325C456.9 324.6 458.5 321.9 460 320C461.5 318.1 462.1 315.2 463.8 313.8C465.4 312.3 467.3 311.7 470 311.2C472.7 310.8 476.7 310.6 480 311.2C483.3 311.9 488.3 301 490 315C491.7 329 504.2 381.7 490 395C475.8 408.3 420 397.7 405 395C390 392.3 402.1 382.5 400 378.8C397.9 375 395 374.4 392.5 372.5C390 370.6 387.3 369.6 385 367.5C382.7 365.4 380.6 362.5 378.8 360C376.9 357.5 375.2 355.2 373.8 352.5C372.3 349.8 371 346.9 370 343.8C369 340.6 367.3 336 367.5 333.8Z"/>
<path fill="#FFFFCC" d="M443.8 317.9C443.8 316.2 445.5 314 446.9 312.8C448.3 311.6 450.7 310.6 452.1 310.7C453.4 310.9 454.5 312.5 455.1 313.8C455.8 315.2 455.3 318.8 456.2 319C457 319.1 458.6 316.1 460.3 314.9C462 313.7 464.4 312.1 466.5 311.8C468.5 311.4 470.6 312.8 472.6 312.8C474.7 312.8 478.1 310.6 478.8 311.8C479.5 313 478.1 318.3 476.8 320C475.4 321.7 472.3 320.7 470.6 322.1C468.9 323.4 467.8 326.5 466.5 328.2C465.1 330 463.7 330.6 462.4 332.4C461 334.1 459.3 336.3 458.2 338.5C457.2 340.8 457.2 345.6 456.2 345.9C455.1 346.3 453.1 342.9 452.1 340.6C451 338.3 450.2 334.8 450 332.4C449.8 330 451.5 327.7 451 326.2C450.5 324.6 448.1 324.5 446.9 323.1C445.7 321.7 443.8 319.7 443.8 317.9Z"/>
<path class="c" fill="#FFCC99" d="M378.8 340C378.8 338.6 379.2 336.9 380 336.2C380.8 335.6 382.9 335.4 383.8 336.2C384.6 337.1 385.1 339.8 385 341.2C384.9 342.7 383.8 344.5 383 345C382.2 345.5 380.7 345.3 380 344.5C379.3 343.7 378.8 341.4 378.8 340Z"/>
<path class="c" fill="#FFCC99" d="M395 353.8C395.4 352.8 396.8 351.5 398 351.2C399.2 351 401.2 351.7 402 352.5C402.8 353.3 403 355.3 402.5 356.2C402 357.2 399.9 357.9 398.8 358C397.6 358.1 396.1 357.7 395.5 357C394.9 356.3 394.6 354.7 395 353.8Z"/>
<path class="c" fill="#FFCC99" d="M403.8 348.8C404.6 347.6 407.5 346.2 410 346.2C412.5 346.2 417.3 347.5 418.8 348.8C420.2 350 419.8 352.7 418.8 353.8C417.7 354.8 414.8 355.1 412.5 355C410.2 354.9 406.5 354 405 353C403.5 352 402.9 349.9 403.8 348.8Z"/>
<path class="c" fill="#FFCC99" d="M420 367.5C420.5 365.4 422.3 362.1 423.8 361.2C425.2 360.4 428 360.8 428.8 362.5C429.5 364.2 428.8 368.8 428 371.2C427.2 373.7 425 376.6 423.8 377C422.5 377.4 421.1 375.3 420.5 373.8C419.9 372.2 419.5 369.6 420 367.5Z"/>
<path class="c" fill="#CCFFCC" d="M412 368.8C412.1 367.7 413.5 366.4 414.5 366.2C415.5 366.1 417.5 367 418 368C418.5 369 418.2 371.2 417.5 372C416.8 372.8 414.7 373 413.8 372.5C412.8 372 411.9 369.8 412 368.8Z"/>
<path class="c" fill="#FFCC99" d="M409.5 378C409.5 377.4 410.8 376.2 411.5 376.2C412.2 376.2 413.7 377.4 413.8 378C413.8 378.6 412.5 380 411.8 380C411 380 409.5 378.6 409.5 378Z"/>
<path class="c" fill="#66CC66" d="M365 370C364.8 368.3 366.9 366 368.8 365C370.6 364 374 363.3 376.2 363.8C378.5 364.2 381.2 366 382.5 367.5C383.8 369 384.6 371.7 383.8 373C382.9 374.3 379.8 375.2 377.5 375.5C375.2 375.8 372.1 375.9 370 375C367.9 374.1 365.2 371.7 365 370Z"/>
<path class="c" fill="#CCFFCC" d="M361.2 347.5C361.2 347 362.2 346 362.8 346C363.3 346 364.5 347 364.5 347.5C364.5 348 363.5 349.2 363 349.2C362.5 349.2 361.3 348 361.2 347.5Z"/>
<path class="c" fill="#66CC66" d="M405.8 316.8C405.7 316.2 406.7 315.2 407.2 315.2C407.8 315.2 409 316.2 409 316.8C409 317.2 408 318.2 407.5 318.2C407 318.2 405.8 317.2 405.8 316.8Z"/>
<path class="c" fill="#66CC66" d="M421.2 322C421.2 321.4 422.9 320.5 423.8 320.5C424.6 320.5 426.2 321.4 426.2 322C426.3 322.6 424.8 324 424 324C423.2 324 421.3 322.6 421.2 322Z"/>
<path class="c" fill="#66CC66" d="M456.2 302.5C456.4 301.2 458.1 299.8 459.3 299.4C460.5 299.1 462.4 299.6 463.4 300.4C464.4 301.3 465.6 303.4 465.4 304.6C465.3 305.8 463.6 307.2 462.4 307.6C461.2 308.1 459.3 308.1 458.2 307.2C457.2 306.4 456 303.8 456.2 302.5Z"/>
<path class="c" fill="#66CC66" d="M431.1 314.9C431.4 313.8 432.8 311.8 433.9 311.4C435 310.9 436.9 311.4 437.6 312.2C438.4 312.9 439 314.9 438.7 315.9C438.3 316.9 436.7 318 435.6 318.4C434.5 318.7 432.6 318.5 431.9 317.9C431.1 317.4 430.7 316 431.1 314.9Z"/>
<path class="c" fill="#66CC66" d="M421.2 322.5C421.1 321.9 422.8 321 423.6 321C424.5 321 426.2 321.9 426.3 322.5C426.4 323.1 425.1 324.5 424.3 324.5C423.4 324.5 421.3 323.1 421.2 322.5Z"/>
<path class="c" fill="#66CC66" d="M420.1 311.1C420.1 310.6 421.1 309.7 421.6 309.7C422.1 309.7 423.2 310.6 423.2 311.1C423.3 311.7 422.3 312.8 421.8 312.8C421.3 312.8 420.2 311.7 420.1 311.1Z"/>
<path class="c" fill="#66CC66" d="M404.7 316.3C404.7 315.8 406.3 314.9 407.2 314.9C408 314.9 409.8 315.8 409.9 316.3C409.9 316.8 408.2 317.9 407.4 317.9C406.5 317.9 404.7 316.8 404.7 316.3Z"/>
<path class="c" fill="#FFCC99" d="M461.9 315.9C462.1 315 463.1 313.4 464 313C464.9 312.6 466.6 312.8 467.3 313.4C468 314.1 468.4 316 468.1 316.9C467.8 317.8 466.3 318.7 465.4 319C464.6 319.2 463.4 319.1 462.8 318.6C462.2 318 461.7 316.8 461.9 315.9Z"/>
<path class="c" fill="#FFFFCC" d="M429.4 324.1C429.6 322.9 430.7 321.4 431.5 321C432.2 320.7 433.4 321 433.9 322.1C434.5 323.1 434.8 325.9 434.6 327.2C434.3 328.5 433.2 329.5 432.5 329.7C431.8 329.9 430.8 329.2 430.2 328.2C429.7 327.3 429.2 325.3 429.4 324.1Z"/>
<path class="c" fill="#FFFFCC" d="M438.7 329.3C438.8 328.4 440.1 327.2 440.7 327.2C441.4 327.2 442.6 328.4 442.8 329.3C443 330.1 442.7 331.8 442.2 332.4C441.7 332.9 440.3 332.9 439.7 332.4C439.1 331.8 438.5 330.1 438.7 329.3Z"/>
<path class="c" fill="#FFFFCC" d="M433.1 338.9C433.4 338.2 434.4 336.7 435.2 336.5C435.9 336.3 437.2 337 437.6 337.7C438.1 338.4 438.4 339.9 438.1 340.6C437.7 341.3 436.3 341.8 435.6 341.8C434.8 341.9 433.9 341.5 433.5 341C433.1 340.5 432.8 339.7 433.1 338.9Z"/>
<path class="c" fill="#009900" d="M441.8 342.2C442.1 341.3 443.3 340 444.2 339.8C445.2 339.6 446.9 340.2 447.5 341C448.1 341.8 448.4 343.8 447.9 344.7C447.5 345.6 445.8 346.3 444.9 346.4C443.9 346.4 442.9 345.8 442.4 345.1C441.9 344.4 441.5 343.1 441.8 342.2Z"/>
<path class="c" fill="#FFCC99" d="M422.2 294.3C422.5 293.2 424.1 291.5 425.3 291.2C426.5 290.8 428.6 291.5 429.4 292.2C430.3 293 430.8 294.8 430.4 295.7C430.1 296.6 428.5 297.5 427.4 297.8C426.2 298 424.5 297.9 423.6 297.4C422.8 296.8 421.9 295.3 422.2 294.3Z"/>
<path class="c" fill="#FFCC99" d="M434.6 297.6C434.7 296.9 435.7 295.8 436.4 295.7C437.1 295.6 438.4 296.3 438.7 296.9C439 297.6 438.6 299 438.1 299.4C437.5 299.9 436.2 299.9 435.6 299.6C435 299.3 434.4 298.2 434.6 297.6Z"/>
<path class="c" fill="#FFCC99" d="M458.2 345.9C457.9 344.2 460.1 340.6 461.3 338.5C462.5 336.4 464.1 334.9 465.4 333.4C466.8 331.8 468.5 329.6 469.6 329.3C470.6 328.9 471.8 330.1 471.6 331.3C471.4 332.5 469.6 334.6 468.5 336.5C467.5 338.4 466.3 340.6 465.4 342.6C464.6 344.7 464.6 348.3 463.4 348.8C462.2 349.4 458.6 347.7 458.2 345.9Z"/>
<path class="c" fill="#FFCC99" d="M423.8 353.8C424.2 352.8 426.2 351.4 427.5 351.2C428.8 351.1 431 352.2 431.2 353C431.5 353.8 429.9 355.6 428.8 356.2C427.6 356.9 425.3 357.2 424.5 356.8C423.7 356.3 423.2 354.7 423.8 353.8Z"/>
<path class="c" fill="#FFCC99" d="M430 367.5C430.4 365.9 432.1 365.2 433.8 365C435.4 364.8 438.8 365.2 440 366.2C441.2 367.3 441.5 369.8 441.2 371.2C441 372.7 440.4 374.5 438.8 375C437.1 375.5 432.7 375.8 431.2 374.5C429.8 373.2 429.6 369.1 430 367.5Z"/>
<path class="c" fill="#FFCC99" d="M458.8 335C458.8 332.7 460 329.4 461.2 327.5C462.5 325.6 465 323.8 466.2 323.8C467.5 323.8 469 325.6 468.8 327.5C468.5 329.4 466.2 332.7 465 335C463.8 337.3 462.3 341.2 461.2 341.2C460.2 341.2 458.8 337.3 458.8 335Z"/>
<path class="c" fill="#FFCC99" d="M462 315C462.1 314 463.5 313.1 464.5 313C465.5 312.9 467.6 313.7 468 314.5C468.4 315.3 467.7 317.3 467 318C466.3 318.7 464.6 319.2 463.8 318.8C462.9 318.2 461.9 316 462 315Z"/>
<path class="c" fill="#66CC66" d="M441.2 341.2C441.4 340.2 442.2 339 443 338.8C443.8 338.5 445.6 339.2 446.2 340C446.9 340.8 447.3 342.7 447 343.8C446.7 344.8 445.3 346 444.5 346.2C443.7 346.5 442.5 345.8 442 345C441.5 344.2 441.1 342.3 441.2 341.2Z"/>
<path class="c" fill="#FFFFCC" d="M429.5 322.5C429.9 321.3 431.2 320.5 432 320.5C432.8 320.5 434.3 321.3 434.5 322.5C434.7 323.7 433.5 326.2 433 327.5C432.5 328.8 431.8 330.5 431.2 330.5C430.7 330.5 429.8 328.8 429.5 327.5C429.2 326.2 429.1 323.7 429.5 322.5Z"/>
<path class="c" fill="#FFFFCC" d="M438 330C438.1 328.9 439.2 327.1 440 327C440.8 326.9 442.6 328.5 443 329.5C443.4 330.5 443.1 332.3 442.5 333C441.9 333.7 440.2 334.2 439.5 333.8C438.8 333.2 437.9 331.1 438 330Z"/>
<path class="c" fill="#FFFFCC" d="M433 338.8C433.3 337.9 434.6 336.2 435.5 336.2C436.4 336.2 438.1 337.8 438.2 338.8C438.4 339.7 437 341.3 436.2 341.8C435.5 342.2 434 342 433.5 341.5C433 341 432.7 339.6 433 338.8Z"/>
<path class="c" fill="#66CC66" d="M430 315C430.2 314.1 431.3 312.5 432.5 312C433.7 311.5 436 311.4 437 312C438 312.6 438.6 314.5 438.2 315.5C437.9 316.5 436.2 317.7 435 318C433.8 318.3 432.1 318 431.2 317.5C430.4 317 429.8 315.9 430 315Z"/>
<path class="c" fill="#66CC66" d="M420.5 322.5C420.4 321.9 422 320.8 423 320.8C424 320.8 426.1 321.9 426.2 322.5C426.4 323.1 424.7 324.5 423.8 324.5C422.8 324.5 420.6 323.1 420.5 322.5Z"/>
<path class="c" fill="#66CC66" d="M420 312C420 311.5 421 310.5 421.5 310.5C422 310.5 423.2 311.5 423.2 312C423.2 312.5 422 313.8 421.5 313.8C421 313.8 420 312.5 420 312Z"/>
<path class="c" fill="#66CC66" d="M455.5 303.8C455.6 302.6 456.6 300.5 458 300C459.4 299.5 462.4 299.8 463.8 300.5C465.1 301.2 466.5 303.3 466.2 304.5C466 305.7 464 307.1 462.5 307.5C461 307.9 458.7 307.6 457.5 307C456.3 306.4 455.4 304.9 455.5 303.8Z"/>
<path class="c" fill="#FF9933" d="M482 302C482 301.2 483.5 299.6 485 298.8C486.5 297.9 490.4 296.7 491.2 297C492.1 297.3 491 299.4 490 300.5C489 301.6 486.3 303.5 485 303.8C483.7 304 482 302.8 482 302Z"/>
<path class="c" fill="#CCFFCC" d="M234 27L236 23.5L239 22L243 21.5L247 22L250.5 23.5L251.5 26L249 28L246 28.5L243 29L240 27.5L237 29Z"/>
<path class="c" fill="#FFCC99" d="M309 28.6L313 24.6L317 20.6L319.8 17.6L320.4 18.2L318 22L314 26L310 29.8Z"/>
<path class="c" fill="#FFFFCC" d="M315 55L317 53.5L320 54L321.5 57L320.5 60.5L318 61.5L315.5 60L316 57.5Z"/>
<path class="c" fill="#FFFFCC" d="M348.5 91.5L350.5 90L353.5 90L354.5 91.5L352.5 93L350 93Z"/>
<path class="c" fill="#CCFFCC" d="M310.6 339.9L312.5 338.5L314.7 337.8L317.5 337.2L320.3 336.7L323 337.3L325.8 338.5L326.5 340.6L324 341.5L321.7 341.9L318 342.2L314.7 342.2L312 341.6Z"/>
<path class="c" fill="#CCFFCC" d="M384.6 393L386 391.8L387.6 393L387.8 396.5L387 400L385.2 400.5L384.4 397Z"/>
<path class="c" fill="#FFFFCC" d="M424.2 399L425.5 398.3L427.5 400L429.5 403.5L430.3 407L429 409.3L427 408.5L426.5 405L425 402Z"/>
<path class="c" fill="#FFFFCC" d="M390.9 412.5L391 409.5L391.9 408.2L393.5 409.5L396 410.3L399 411.7L403 413.8L407 415.7L411 415.6L415 415L418.5 414L421.7 413.3L425 412.8L427.4 413.3L427.8 417L427.4 420.6L427.2 425L426.6 428.7L426 431.5L425 433.6L423.5 436L421.7 438.5L420 440L418.5 441.7L416.5 443.5L415 445.8L413.5 447.5L412 448.3L409.5 449L407 449.2L404.5 448.2L402 446.6L400.3 444L399 441.7L397.3 438L395.7 433.6L394.8 430L394 427L392.8 423L391.7 419L391.2 416Z"/>
<path class="c" fill="#FFCC99" d="M506 213L507.3 211L508.3 212.5L508 216L507 219L505.8 218Z"/>
<path class="c" fill="#FF9933" d="M59.3 160.8L60.3 159.5L61 160.3L60.2 162.4L59.4 162.6Z"/>
<path class="c" fill="#FFFFCC" d="M40.3 214.8L41.6 214.5L42 218L41.8 221.5L40.5 221.3Z"/>
<path class="c" fill="#FFFFCC" d="M40.5 225L42 224.5L46 229L50 234.5L52.5 239.5L51 240.5L47 236L43 230.5Z"/>
<path class="c" fill="#009900" d="M390.5 8.2L392 7.6L392.6 9L391.3 9.8Z"/>
<path class="c" fill="#009900" d="M390.8 13L392 12.5L392.5 14L391.2 14.6Z"/>
<path class="c" fill="#FFCC99" d="M390.1 410.9C390.9 409.1 393.4 411.1 394.9 411.7C396.4 412.2 398.5 412.8 399 414.1C399.5 415.5 398.7 417.9 398.2 419.8C397.6 421.7 396.6 424.1 395.7 425.5C394.9 426.8 394.3 428.5 393.3 427.9C392.4 427.4 390.6 425.1 390.1 422.2C389.5 419.4 389.2 412.6 390.1 410.9Z"/>
<path class="c" fill="#FFCC99" d="M393.3 428.7C393.4 426.7 395.5 428.6 396.6 429.6C397.6 430.5 398.5 433.2 399.8 434.4C401.2 435.6 403.2 436.6 404.7 436.9C406.2 437.1 407.6 435.6 408.7 436.1C409.9 436.5 411 437.8 411.7 439.3C412.3 440.8 413.3 443 412.8 445C412.3 447 410.8 450.7 408.7 451.5C406.7 452.3 402.8 451.5 400.6 449.9C398.5 448.2 397 445.3 395.7 441.7C394.5 438.2 393.2 430.8 393.3 428.7Z"/>
<path class="c" fill="#FF9933" d="M401.4 446.6C402 445.9 404.1 445.5 405.5 445C406.8 444.5 408.5 443.6 409.6 443.7C410.6 443.8 411.5 444.8 411.7 445.8C411.9 446.8 411.7 449 410.7 449.9C409.7 450.7 406.9 450.8 405.5 450.7C404.1 450.5 402.9 449.7 402.2 449C401.6 448.4 400.9 447.3 401.4 446.6Z"/>
<path class="c" fill="#CCFFCC" d="M407.9 417.4C408.3 416.5 410.5 415.9 412 415.4C413.5 415 415.1 415.1 416.9 414.8C418.6 414.4 420.4 413.7 422.6 413.3C424.7 412.9 428.6 410.3 429.9 412.5C431.1 414.7 430.7 424.1 429.9 426.3C429 428.5 426.2 426.4 425 425.8C423.8 425.3 423.4 423.8 422.6 423.1C421.7 422.3 420.9 421.3 420.1 421.4C419.3 421.5 418.8 423.3 417.7 423.5C416.6 423.8 415 423.5 413.6 423.1C412.3 422.6 410.5 421.6 409.6 420.6C408.6 419.7 407.5 418.2 407.9 417.4Z"/>
<path class="c" fill="#CCFFCC" d="M412.8 432C412.9 431 413.5 429.5 414.4 428.7C415.4 428 417.1 427.5 418.5 427.4C419.8 427.4 421.6 427.7 422.6 428.4C423.5 429.2 423 431.1 424.2 432C425.4 432.9 428.9 432.5 429.9 433.6C430.8 434.7 431.2 437.9 429.9 438.5C428.5 439 424 437.3 421.7 436.9C419.4 436.5 417.4 436.4 416.1 436.1C414.7 435.7 414.2 435.6 413.6 434.9C413.1 434.2 412.7 433 412.8 432Z"/>
<path class="c" fill="#66CC66" d="M424.2 421.4C424.3 420.2 424.9 418.9 425.8 418.2C426.7 417.5 429.2 416 429.9 417.4C430.5 418.7 430.7 424.9 429.9 426.3C429 427.7 425.9 426.3 425 425.5C424 424.7 424 422.6 424.2 421.4Z"/>
<path class="c" fill="#FFCC99" d="M403.1 428.4C403.1 427.7 403.9 426.9 404.7 426.6C405.4 426.4 406.8 426.4 407.4 426.8C408.1 427.1 408.8 428.1 408.7 428.7C408.7 429.4 407.9 430.5 407.1 430.9C406.4 431.2 404.9 431.1 404.2 430.7C403.5 430.3 403 429.1 403.1 428.4Z"/>
<path class="c" fill="#66CC66" d="M314.7 330.8C314.6 330.2 317 329 318.2 328.3C319.4 327.6 320.6 327.2 321.7 326.7C322.7 326.2 323.8 325.3 324.4 325.3C325.1 325.3 326.1 325.9 325.8 326.7C325.6 327.5 324.2 329.2 323.1 330.1C321.9 331.1 320.3 332.1 318.9 332.2C317.5 332.3 314.8 331.5 314.7 330.8Z"/>
<path class="c" fill="#66CC66" d="M317.2 339.4C317.2 338.8 318.7 337.9 319.6 337.8C320.4 337.6 321.8 338 322.4 338.5C322.9 338.9 323.2 340 322.8 340.6C322.3 341.1 320.5 341.9 319.6 341.7C318.7 341.5 317.2 340.1 317.2 339.4Z"/>
<path class="c" fill="#66CC66" d="M181.7 69.4C181.7 67.9 182.8 65.3 183.8 63.9C184.7 62.5 185.7 61.7 187.2 61.1C188.7 60.5 191 60.1 192.8 60.4C194.5 60.8 196.5 61.9 197.6 63.2C198.8 64.5 199.6 66.6 199.7 68.1C199.8 69.6 199.3 71.1 198.3 72.2C197.4 73.3 195.8 74.3 194.2 74.7C192.5 75.2 190.3 75.3 188.6 75C186.9 74.7 184.9 73.8 183.8 72.9C182.6 72 181.7 70.9 181.7 69.4Z"/>
<path class="c" fill="#009900" d="M185.8 66.7C185.8 65.3 186.2 63.8 186.9 62.8C187.6 61.8 189 60.9 190 60.8C191 60.7 192.1 61.4 192.8 62.2C193.5 63.1 194.1 64.7 194.2 66C194.3 67.3 194.1 69.1 193.5 70.1C192.9 71.1 191.7 71.8 190.7 71.9C189.7 72.1 188 71.7 187.2 70.8C186.4 70 185.9 68 185.8 66.7Z"/>
<path class="c" fill="#FFFFCC" d="M54.1 234.7C55 234 58.4 235.7 60.5 237.3C62.6 238.9 64.6 242.4 66.9 244.2C69.3 246 72.1 247.5 74.6 248.1C77.2 248.6 80 247.1 82.3 247.6C84.7 248 87.4 249.2 88.7 250.6C90.1 252.1 90.9 254.8 90.5 256.3C90.1 257.8 87.9 259.5 86.2 259.6C84.4 259.7 81.7 256.9 79.7 257.1C77.8 257.2 75.4 258.7 74.6 260.4C73.8 262.1 75.2 264.9 75.1 267.3C75 269.7 74.9 274.3 74.1 275C73.3 275.7 71.5 273.5 70.3 271.7C69 269.8 67.7 266.5 66.4 264C65.1 261.4 63.9 258.8 62.6 256.3C61.2 253.7 59.7 251 58.5 248.6C57.2 246.2 55.6 244 54.9 241.7C54.1 239.4 53.2 235.5 54.1 234.7Z"/>
</g>
<g fill="none" stroke="#333" stroke-width=".5" stroke-dasharray="5.5 2" clip-path="url(#land)">
<path d="M221.8 66L222.5 100L224 150L226 212L227.5 250L229 287"/>
<path d="M226 212L280 212L332 212L364.5 212.2"/>
<path d="M334.8 88L333.5 140L332 212"/>
<path d="M364.5 212.2L364.2 255"/>
<path d="M364.2 255L400 255.5L440 256L452 256.5L458 255L464 257L470 255.5L477 257.5L484 256L490 258L496 256L500 254L505 252"/>
<path d="M364.2 255L362.5 290L361 318"/>
<path d="M360 318L359.5 340L358.8 372"/>
<path d="M360.5 318L365 320L368 323.5L372 325L376 327L380 331L385 334L388 338L392 341L395 344.5L400 345L405 347.5L410 347L415 348.5L420 349.5L430 356L440 363L450 370"/>
</g>
<path d="M48.8 179.5L51.4 183L53.9 178.7L57.4 175.3L60.8 172.7L64.2 169.3L68 165.4L71 160.5L77.5 156L86 153L94 151L100 148L105 145L110 143.5L115 142.5L120 139L125 135L130 129L134 122.5L137 118L139 114L137.5 110L138 104.5L140.8 101L143.6 99L145.7 94L147.8 98.2L150 101.7L152.6 105L154.7 107.5L155.4 104.4L154.4 100.3L153.3 96L152.9 91.3L154.4 89.4L157.5 91.7L161 92.6L163 91.3L165.1 89.9L164.4 85L163.8 81.5L165.8 79.4L167.9 77.4L170 75.3L172 73.2L173.5 69.7L175.6 67.6L177.6 65.6L178.3 63.5L181.1 64.9L183.2 62.1L185.3 60L187 61L190 59L194 58L197.5 56L199 59L201 60L204 63L207.5 66L209 70L210 72.5L212 69L215 69L218 72L222.5 71L226 67.5L225 63L226 60L228 56L230 52.5L232 48L234 45L237 42L240 39L243 35L246 32.5L249 31L252.5 30L256 28L260 27.5L263 30L265 29L263 25L259 23L256 21.5L258 19.5L262 20.5L264 18L266 17.5L266.5 22L269 25L272 24L275 27L278 26L280 29L285 30L290 31L295 33L299.6 33.1L304.4 30.2L308.3 28.3L310.2 32.1L313.1 34L316 31.2L318.8 34L320.8 36L317.9 39.8L316 43.7L313.1 46.5L309.2 47.5L308.3 51.3L306.3 56.2L303.5 61.9L301.5 66.7L304.4 69.6L309.2 75.4L315 79.2L320.8 81.2L325.6 84L331.3 88.8L338 91.7L345 95L350 100L352 104L355 106L360 106.5L364 104L367.5 101L370 97L372.5 92.5L374 88L376 82.5L378 77L379 72.5L378.5 66L379 60L380 55L381 50L382 45L382.5 41L384 38L385 35L387 30L389 25L391 21L392.5 17.5L394.5 18L396 20L397.5 24L399 27.5L400 31L401 35L400 37L402.5 40L404 44L405 47L406 50L406.5 56L407.5 61L410 65L412.5 67.5L415 65.5L417.5 65L419 68L420 71L423 73L425 75L425.5 80L426 85L425.5 89L426 92.5L428 96L430 100L431.5 104L432.5 107.5L433 112L434 117.5L436 122L439 127.5L443 131L447.5 135L452 138L456 141L459 145L462.5 149L464 153L465 157.5L467 161L469 165L472 170L475 175L478 178L481 180L481.5 185L482.5 190L485 194L487.5 197.5L490 200L493 203L495 205L497.5 209L500 212L503 216L505 219L503.5 223L502.5 227.5L504 233L505 240L504 246L504 252.5L505 258L505 262.5L503 269L500 275L498 280L496 285L493.5 290L491 295L489 300L487.5 305L484 309L480 312.5L475 317L470 321L467 327L465 332.5L461 339L457.5 345L455 351L452.5 357.5L451 364L450 370L446 372.5L442.5 374L436 375L430 376L425 377.5L420 379L416 381L413 383L411 385.5L409 383L405 380L401 376L397.5 373L394 375L390 376.5L387 379.5L385 381.5L380 379.5L375 377L370 375L366 374.5L362.5 374L358 371.5L355 369L352 366L350 362.5L347.5 357L345 352.5L341.1 344.7L336.9 340.6L332.8 338.5L328.6 337.1L332.8 333.6L332.1 329.4L330.7 323.9L327.9 318.3L326.5 321.1L325.1 326L321.7 330.1L318.2 332L314.7 331.5L317.5 328.8L321 326.7L321.7 321.8L322.4 316.2L323.8 310.7L325.8 304.4L325.1 298.2L322.4 304.4L319.6 309.3L316.1 312.8L311.2 314.9L307.8 318.3L305.7 322.5L304.3 326.7L300.8 325.3L297.4 321.8L296 317L293.2 311.4L289.7 307.9L286.9 304.4L285.6 298.9L282.1 295.4L280 292L275 290L268 288.5L262.5 287.5L257 285.5L252.5 284L247 284.5L242.5 285L235 285.5L229 286L223 288L217.5 290L211 292L205 294L198 297L190 299.5L186 302L182.5 304L179 307L176 310L173 314L170 317.5L165 319L160 319L155 318.5L150 319L145 320L140 321L135 321.5L131 322.5L129 325L127.5 327.5L123 329L120 330L118.5 333L117.5 335L113 337.5L110 339L105 340L100 340L95 338.5L90 336L85 334L81 332.5L79 329L78.5 325L82 321L84 317.5L83 312L82.5 307.5L82 302L81 297.5L78.5 292L76 287.5L73 282L71 277.5L68 270L65 262.5L62 256L59.5 250L57.4 245L56.5 240.2L55.6 235.1L53.1 230.8L49.7 226.5L46.2 223.1L43.7 218L44.5 212.9L43.3 208.6L43.7 203.5L44.5 199.2L46.2 194.9L45 189.8L44.2 184.7L45.4 179.5L47.1 175.6ZM234 27L236 23.5L239 22L243 21.5L247 22L250.5 23.5L251.5 26L249 28L246 28.5L243 29L240 27.5L237 29ZM309 28.6L313 24.6L317 20.6L319.8 17.6L320.4 18.2L318 22L314 26L310 29.8ZM315 55L317 53.5L320 54L321.5 57L320.5 60.5L318 61.5L315.5 60L316 57.5ZM348.5 91.5L350.5 90L353.5 90L354.5 91.5L352.5 93L350 93ZM310.6 339.9L312.5 338.5L314.7 337.8L317.5 337.2L320.3 336.7L323 337.3L325.8 338.5L326.5 340.6L324 341.5L321.7 341.9L318 342.2L314.7 342.2L312 341.6ZM384.6 393L386 391.8L387.6 393L387.8 396.5L387 400L385.2 400.5L384.4 397ZM424.2 399L425.5 398.3L427.5 400L429.5 403.5L430.3 407L429 409.3L427 408.5L426.5 405L425 402ZM390.9 412.5L391 409.5L391.9 408.2L393.5 409.5L396 410.3L399 411.7L403 413.8L407 415.7L411 415.6L415 415L418.5 414L421.7 413.3L425 412.8L427.4 413.3L427.8 417L427.4 420.6L427.2 425L426.6 428.7L426 431.5L425 433.6L423.5 436L421.7 438.5L420 440L418.5 441.7L416.5 443.5L415 445.8L413.5 447.5L412 448.3L409.5 449L407 449.2L404.5 448.2L402 446.6L400.3 444L399 441.7L397.3 438L395.7 433.6L394.8 430L394 427L392.8 423L391.7 419L391.2 416ZM506 213L507.3 211L508.3 212.5L508 216L507 219L505.8 218ZM59.3 160.8L60.3 159.5L61 160.3L60.2 162.4L59.4 162.6ZM40.3 214.8L41.6 214.5L42 218L41.8 221.5L40.5 221.3ZM40.5 225L42 224.5L46 229L50 234.5L52.5 239.5L51 240.5L47 236L43 230.5ZM390.5 8.2L392 7.6L392.6 9L391.3 9.8ZM390.8 13L392 12.5L392.5 14L391.2 14.6Z" fill="none" stroke="#000" stroke-width=".8" stroke-linejoin="round"/>
<rect x="571" y="68.60" width="27.5" height="28.15" fill="#660099" stroke="#555" stroke-width=".6"/>
<rect x="571" y="96.75" width="27.5" height="28.15" fill="#0000FF" stroke="#555" stroke-width=".6"/>
<rect x="571" y="124.90" width="27.5" height="28.15" fill="#6699FF" stroke="#555" stroke-width=".6"/>
<rect x="571" y="153.05" width="27.5" height="28.15" fill="#009900" stroke="#555" stroke-width=".6"/>
<rect x="571" y="181.20" width="27.5" height="28.15" fill="#66CC66" stroke="#555" stroke-width=".6"/>
<rect x="571" y="209.35" width="27.5" height="28.15" fill="#CCFFCC" stroke="#555" stroke-width=".6"/>
<rect x="571" y="237.50" width="27.5" height="28.15" fill="#FFFFCC" stroke="#555" stroke-width=".6"/>
<rect x="571" y="265.65" width="27.5" height="28.15" fill="#FFCC99" stroke="#555" stroke-width=".6"/>
<rect x="571" y="293.80" width="27.5" height="28.15" fill="#FF9933" stroke="#555" stroke-width=".6"/>
<rect x="571" y="321.95" width="27.5" height="28.15" fill="#FF6633" stroke="#555" stroke-width=".6"/>
<rect x="571" y="350.10" width="27.5" height="28.15" fill="#CC6633" stroke="#555" stroke-width=".6"/>
<text class="l" x="616.8" y="100.5">400%</text>
<text class="l" x="616.8" y="128.7">300%</text>
<text class="l" x="616.8" y="156.8">200%</text>
<text class="l" x="616.8" y="185.0">150%</text>
<text class="l" x="616.8" y="213.2">125%</text>
<text class="l" x="616.8" y="241.3">100%</text>
<text class="l" x="616.8" y="269.4">80%</text>
<text class="l" x="616.8" y="297.6">60%</text>
<text class="l" x="616.8" y="325.8">40%</text>
<text class="l" x="616.8" y="353.9">20%</text>
<text class="l" x="616.8" y="382.1">0%</text>
<text class="l" x="584.2" y="55.4">Percentage of mean</text>
<text class="t" x="224" y="399.1">Australian rainfall percentages</text>
<text class="t" x="224" y="417.1">1 September to 30 November 2020</text>
<text class="t" x="223.2" y="439.3">Australian Gridded Climate Data</text>
<text class="f" x="2.5" y="451.8">Base period: 1961—1990</text>
<text class="f" x="677.8" y="451.8" text-anchor="end">Dataset: AGCD v2</text>
<text class="f" x="3.3" y="466">© Commonwealth of Australia 2020, Bureau of Meteorology</text>
<text class="f" x="677.8" y="466.2" text-anchor="end">Issued: 30/11/2020</text>
<path d="M0.5 455.5V0.5H679.5V455.5Z" fill="none" stroke="#707070" stroke-width="1.3"/>
</svg>
</body></html>
